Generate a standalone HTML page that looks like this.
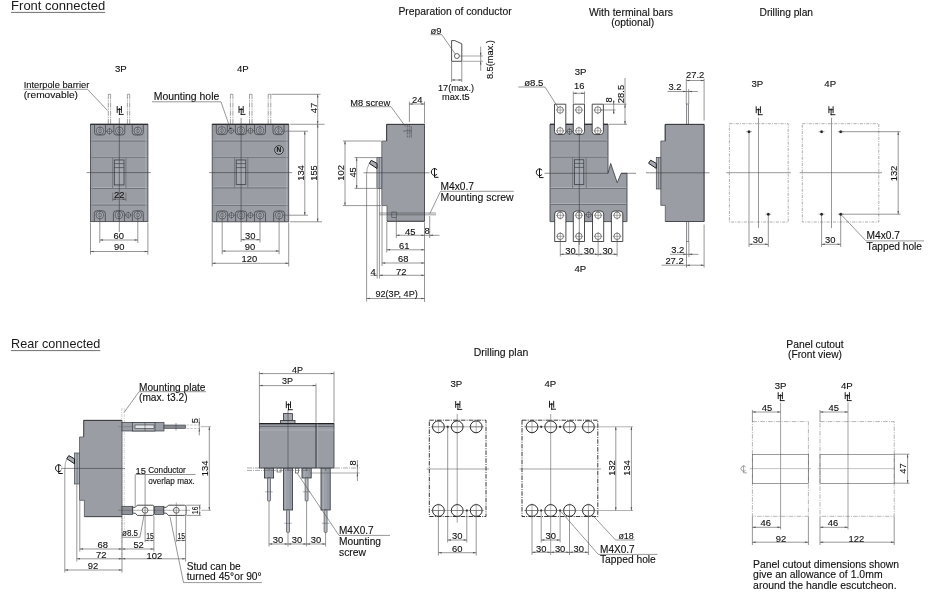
<!DOCTYPE html>
<html lang="en"><head><meta charset="utf-8"><title>Outline dimensions</title>
<style>html,body{margin:0;padding:0;background:#fff}svg{display:block}text{white-space:pre;stroke:#111;stroke-width:.12px}</style>
</head><body>
<svg width="933" height="600" viewBox="0 0 933 600" font-family="'Liberation Sans', sans-serif">
<rect width="933" height="600" fill="#fff"/>
<text x="11.1" y="10" font-size="13" textLength="94.1" lengthAdjust="spacingAndGlyphs" fill="#1a1a1a" style="stroke:none">Front connected</text>
<line x1="11.1" y1="12.4" x2="105.2" y2="12.4" stroke="#4a4a4a" stroke-width="0.8"/>
<text x="11.1" y="347.75" font-size="13" textLength="89.2" lengthAdjust="spacingAndGlyphs" fill="#1a1a1a" style="stroke:none">Rear connected</text>
<line x1="11.1" y1="350.6" x2="100.3" y2="350.6" stroke="#4a4a4a" stroke-width="0.8"/>
<line x1="108.3" y1="94.3" x2="108.3" y2="124.3" stroke="#555" stroke-width="0.55" stroke-dasharray="5 1 1.2 1"/>
<line x1="110.6" y1="94.3" x2="110.6" y2="124.3" stroke="#555" stroke-width="0.55" stroke-dasharray="5 1 1.2 1"/>
<line x1="108.3" y1="94.3" x2="110.6" y2="94.3" stroke="#555" stroke-width="0.55"/>
<line x1="127.4" y1="94.3" x2="127.4" y2="124.3" stroke="#555" stroke-width="0.55" stroke-dasharray="5 1 1.2 1"/>
<line x1="129.7" y1="94.3" x2="129.7" y2="124.3" stroke="#555" stroke-width="0.55" stroke-dasharray="5 1 1.2 1"/>
<line x1="127.4" y1="94.3" x2="129.7" y2="94.3" stroke="#555" stroke-width="0.55"/>
<rect x="90.5" y="124.3" width="57.4" height="97.3" fill="#9a9da3" stroke="#4a4c52" stroke-width="0.9"/>
<line x1="90.5" y1="124.3" x2="147.9" y2="124.3" stroke="#1c1c1e" stroke-width="1.1"/>
<line x1="91" y1="140.1" x2="147.4" y2="140.1" stroke="#b4b8bf" stroke-width="0.7"/>
<line x1="91" y1="141" x2="147.4" y2="141" stroke="#6a6e75" stroke-width="0.9"/>
<line x1="91" y1="156.4" x2="147.4" y2="156.4" stroke="#b4b8bf" stroke-width="0.7"/>
<line x1="91" y1="157.3" x2="147.4" y2="157.3" stroke="#6a6e75" stroke-width="0.9"/>
<line x1="91" y1="187.6" x2="147.4" y2="187.6" stroke="#b4b8bf" stroke-width="0.7"/>
<line x1="91" y1="188.5" x2="147.4" y2="188.5" stroke="#6a6e75" stroke-width="0.9"/>
<line x1="91" y1="204.1" x2="147.4" y2="204.1" stroke="#b4b8bf" stroke-width="0.7"/>
<line x1="91" y1="205" x2="147.4" y2="205" stroke="#6a6e75" stroke-width="0.9"/>
<line x1="145.9" y1="125.3" x2="145.9" y2="220.6" stroke="#b4b8bf" stroke-width="0.6"/>
<line x1="92.5" y1="125.3" x2="92.5" y2="220.6" stroke="#8f939a" stroke-width="0.6"/>
<path d="M94.5,124.3 V132.4 Q94.5,135 97.1,135 H102.9 Q105.5,135 105.5,132.4 V124.3" fill="none" stroke="#3a3c40" stroke-width="0.7"/>
<circle cx="100" cy="130.8" r="3.75" fill="#adb1b9" stroke="#3a3c40" stroke-width="0.65"/>
<circle cx="100" cy="130.8" r="1.9" fill="#a4a8b0" stroke="#4a4d52" stroke-width="0.55"/>
<line x1="100" y1="126.2" x2="100" y2="135.4" stroke="#4a4d52" stroke-width="0.5"/>
<path d="M113.8,124.3 V132.4 Q113.8,135 116.4,135 H122.2 Q124.8,135 124.8,132.4 V124.3" fill="none" stroke="#3a3c40" stroke-width="0.7"/>
<circle cx="119.3" cy="130.8" r="3.75" fill="#adb1b9" stroke="#3a3c40" stroke-width="0.65"/>
<circle cx="119.3" cy="130.8" r="1.9" fill="#a4a8b0" stroke="#4a4d52" stroke-width="0.55"/>
<line x1="119.3" y1="126.2" x2="119.3" y2="135.4" stroke="#4a4d52" stroke-width="0.5"/>
<path d="M132.3,124.3 V132.4 Q132.3,135 134.9,135 H140.7 Q143.3,135 143.3,132.4 V124.3" fill="none" stroke="#3a3c40" stroke-width="0.7"/>
<circle cx="137.8" cy="130.8" r="3.75" fill="#adb1b9" stroke="#3a3c40" stroke-width="0.65"/>
<circle cx="137.8" cy="130.8" r="1.9" fill="#a4a8b0" stroke="#4a4d52" stroke-width="0.55"/>
<line x1="137.8" y1="126.2" x2="137.8" y2="135.4" stroke="#4a4d52" stroke-width="0.5"/>
<circle cx="109.5" cy="131.3" r="2.45" fill="#b0b4bc" stroke="#3a3c40" stroke-width="0.6"/>
<line x1="106.1" y1="131.3" x2="112.9" y2="131.3" stroke="#3a3c40" stroke-width="0.5"/>
<line x1="109.5" y1="127.9" x2="109.5" y2="134.7" stroke="#3a3c40" stroke-width="0.5"/>
<path d="M94.3,221.6 V213.4 Q94.3,210.8 96.9,210.8 H102.7 Q105.3,210.8 105.3,213.4 V221.6" fill="none" stroke="#3a3c40" stroke-width="0.7"/>
<circle cx="99.8" cy="215" r="3.75" fill="#adb1b9" stroke="#3a3c40" stroke-width="0.65"/>
<circle cx="99.8" cy="215" r="1.9" fill="#a4a8b0" stroke="#4a4d52" stroke-width="0.55"/>
<line x1="99.8" y1="210.4" x2="99.8" y2="219.6" stroke="#4a4d52" stroke-width="0.5"/>
<path d="M113.4,221.6 V213.4 Q113.4,210.8 116,210.8 H121.8 Q124.4,210.8 124.4,213.4 V221.6" fill="none" stroke="#3a3c40" stroke-width="0.7"/>
<circle cx="118.9" cy="215" r="3.75" fill="#adb1b9" stroke="#3a3c40" stroke-width="0.65"/>
<circle cx="118.9" cy="215" r="1.9" fill="#a4a8b0" stroke="#4a4d52" stroke-width="0.55"/>
<line x1="118.9" y1="210.4" x2="118.9" y2="219.6" stroke="#4a4d52" stroke-width="0.5"/>
<path d="M132.3,221.6 V213.4 Q132.3,210.8 134.9,210.8 H140.7 Q143.3,210.8 143.3,213.4 V221.6" fill="none" stroke="#3a3c40" stroke-width="0.7"/>
<circle cx="137.8" cy="215" r="3.75" fill="#adb1b9" stroke="#3a3c40" stroke-width="0.65"/>
<circle cx="137.8" cy="215" r="1.9" fill="#a4a8b0" stroke="#4a4d52" stroke-width="0.55"/>
<line x1="137.8" y1="210.4" x2="137.8" y2="219.6" stroke="#4a4d52" stroke-width="0.5"/>
<circle cx="128.2" cy="215" r="2.45" fill="#b0b4bc" stroke="#3a3c40" stroke-width="0.6"/>
<line x1="124.8" y1="215" x2="131.6" y2="215" stroke="#3a3c40" stroke-width="0.5"/>
<line x1="128.2" y1="211.6" x2="128.2" y2="218.4" stroke="#3a3c40" stroke-width="0.5"/>
<line x1="112.7" y1="157.3" x2="112.7" y2="188.5" stroke="#6a6e75" stroke-width="0.8"/>
<line x1="125.9" y1="157.3" x2="125.9" y2="188.5" stroke="#6a6e75" stroke-width="0.8"/>
<rect x="114.3" y="160" width="9.7" height="24.9" fill="#a4a8b0" stroke="#33353a" stroke-width="0.7"/>
<line x1="114.3" y1="163.6" x2="124" y2="163.6" stroke="#33353a" stroke-width="0.6"/>
<line x1="114.3" y1="167.6" x2="124" y2="167.6" stroke="#33353a" stroke-width="0.6"/>
<line x1="119.3" y1="118" x2="119.3" y2="232" stroke="#333" stroke-width="0.55"/>
<line x1="86.5" y1="172.6" x2="151" y2="172.6" stroke="#333" stroke-width="0.55"/>
<line x1="117.2" y1="106.5" x2="117.2" y2="112.4" stroke="#111" stroke-width="0.95" stroke-linecap="square"/>
<line x1="121.4" y1="106.5" x2="121.4" y2="112.4" stroke="#111" stroke-width="0.95" stroke-linecap="square"/>
<line x1="117.2" y1="109.4" x2="121.4" y2="109.4" stroke="#111" stroke-width="0.95"/>
<line x1="119.4" y1="108.6" x2="119.4" y2="114.4" stroke="#111" stroke-width="0.95" stroke-linecap="square"/>
<line x1="119.4" y1="114.4" x2="123.2" y2="114.4" stroke="#111" stroke-width="0.95" stroke-linecap="square"/>
<text x="119.3" y="198.37" font-size="9.4" text-anchor="middle" fill="#111">22</text>
<line x1="112.7" y1="192.5" x2="112.7" y2="201" stroke="#505050" stroke-width="0.5"/>
<line x1="125.9" y1="192.5" x2="125.9" y2="201" stroke="#505050" stroke-width="0.5"/>
<line x1="112.7" y1="199.2" x2="125.9" y2="199.2" stroke="#505050" stroke-width="0.6"/>
<polygon points="112.7,199.2 115.9,198.45 115.9,199.95" fill="#505050"/>
<polygon points="125.9,199.2 122.7,198.45 122.7,199.95" fill="#505050"/>
<line x1="99.8" y1="219" x2="99.8" y2="243" stroke="#505050" stroke-width="0.6"/>
<line x1="137.8" y1="219" x2="137.8" y2="243" stroke="#505050" stroke-width="0.6"/>
<line x1="99.8" y1="240" x2="137.8" y2="240" stroke="#505050" stroke-width="0.6"/>
<polygon points="99.8,240 103,239.25 103,240.75" fill="#505050"/>
<polygon points="137.8,240 134.6,239.25 134.6,240.75" fill="#505050"/>
<text x="118.8" y="238.67" font-size="9.4" text-anchor="middle" fill="#111">60</text>
<line x1="90.5" y1="222.6" x2="90.5" y2="254.6" stroke="#505050" stroke-width="0.6"/>
<line x1="147.9" y1="222.6" x2="147.9" y2="254.6" stroke="#505050" stroke-width="0.6"/>
<line x1="90.5" y1="251.5" x2="147.9" y2="251.5" stroke="#505050" stroke-width="0.6"/>
<polygon points="90.5,251.5 93.7,250.75 93.7,252.25" fill="#505050"/>
<polygon points="147.9,251.5 144.7,250.75 144.7,252.25" fill="#505050"/>
<text x="119.2" y="250.37" font-size="9.4" text-anchor="middle" fill="#111">90</text>
<text x="120.8" y="72.24" font-size="9.6" text-anchor="middle" fill="#111">3P</text>
<text x="23.7" y="87.64" font-size="9.9" textLength="65.6" lengthAdjust="spacingAndGlyphs" fill="#111">Interpole barrier</text>
<text x="23.7" y="97.84" font-size="9.9" textLength="54.3" lengthAdjust="spacingAndGlyphs" fill="#111">(removable)</text>
<line x1="23.7" y1="89.3" x2="87.5" y2="89.3" stroke="#505050" stroke-width="0.6"/>
<line x1="87.5" y1="89.3" x2="107.5" y2="110.5" stroke="#505050" stroke-width="0.6"/>
<line x1="230.4" y1="94.3" x2="230.4" y2="124.3" stroke="#555" stroke-width="0.55" stroke-dasharray="5 1 1.2 1"/>
<line x1="232.9" y1="94.3" x2="232.9" y2="124.3" stroke="#555" stroke-width="0.55" stroke-dasharray="5 1 1.2 1"/>
<line x1="230.4" y1="94.3" x2="232.9" y2="94.3" stroke="#555" stroke-width="0.55"/>
<line x1="249.5" y1="94.3" x2="249.5" y2="124.3" stroke="#555" stroke-width="0.55" stroke-dasharray="5 1 1.2 1"/>
<line x1="252" y1="94.3" x2="252" y2="124.3" stroke="#555" stroke-width="0.55" stroke-dasharray="5 1 1.2 1"/>
<line x1="249.5" y1="94.3" x2="252" y2="94.3" stroke="#555" stroke-width="0.55"/>
<line x1="268.2" y1="94.3" x2="268.2" y2="124.3" stroke="#555" stroke-width="0.55" stroke-dasharray="5 1 1.2 1"/>
<line x1="270.8" y1="94.3" x2="270.8" y2="124.3" stroke="#555" stroke-width="0.55" stroke-dasharray="5 1 1.2 1"/>
<line x1="268.2" y1="94.3" x2="270.8" y2="94.3" stroke="#555" stroke-width="0.55"/>
<rect x="212.2" y="124.3" width="76.5" height="97.5" fill="#9a9da3" stroke="#4a4c52" stroke-width="0.9"/>
<line x1="212.2" y1="124.3" x2="288.7" y2="124.3" stroke="#1c1c1e" stroke-width="1.1"/>
<line x1="212.7" y1="140.1" x2="288.2" y2="140.1" stroke="#b4b8bf" stroke-width="0.7"/>
<line x1="212.7" y1="141" x2="288.2" y2="141" stroke="#6a6e75" stroke-width="0.9"/>
<line x1="212.7" y1="156.4" x2="288.2" y2="156.4" stroke="#b4b8bf" stroke-width="0.7"/>
<line x1="212.7" y1="157.3" x2="288.2" y2="157.3" stroke="#6a6e75" stroke-width="0.9"/>
<line x1="212.7" y1="187" x2="288.2" y2="187" stroke="#b4b8bf" stroke-width="0.7"/>
<line x1="212.7" y1="187.9" x2="288.2" y2="187.9" stroke="#6a6e75" stroke-width="0.9"/>
<line x1="212.7" y1="204.5" x2="288.2" y2="204.5" stroke="#b4b8bf" stroke-width="0.7"/>
<line x1="212.7" y1="205.4" x2="288.2" y2="205.4" stroke="#6a6e75" stroke-width="0.9"/>
<line x1="286.7" y1="125.3" x2="286.7" y2="220.8" stroke="#b4b8bf" stroke-width="0.6"/>
<line x1="214.2" y1="125.3" x2="214.2" y2="220.8" stroke="#8f939a" stroke-width="0.6"/>
<path d="M216.3,124.3 V132 Q216.3,134.6 218.9,134.6 H224.7 Q227.3,134.6 227.3,132 V124.3" fill="none" stroke="#3a3c40" stroke-width="0.7"/>
<circle cx="221.8" cy="130.4" r="3.75" fill="#adb1b9" stroke="#3a3c40" stroke-width="0.65"/>
<circle cx="221.8" cy="130.4" r="1.9" fill="#a4a8b0" stroke="#4a4d52" stroke-width="0.55"/>
<line x1="221.8" y1="125.8" x2="221.8" y2="135" stroke="#4a4d52" stroke-width="0.5"/>
<path d="M235.4,124.3 V132 Q235.4,134.6 238,134.6 H243.8 Q246.4,134.6 246.4,132 V124.3" fill="none" stroke="#3a3c40" stroke-width="0.7"/>
<circle cx="240.9" cy="130.4" r="3.75" fill="#adb1b9" stroke="#3a3c40" stroke-width="0.65"/>
<circle cx="240.9" cy="130.4" r="1.9" fill="#a4a8b0" stroke="#4a4d52" stroke-width="0.55"/>
<line x1="240.9" y1="125.8" x2="240.9" y2="135" stroke="#4a4d52" stroke-width="0.5"/>
<path d="M254.5,124.3 V132 Q254.5,134.6 257.1,134.6 H262.9 Q265.5,134.6 265.5,132 V124.3" fill="none" stroke="#3a3c40" stroke-width="0.7"/>
<circle cx="260" cy="130.4" r="3.75" fill="#adb1b9" stroke="#3a3c40" stroke-width="0.65"/>
<circle cx="260" cy="130.4" r="1.9" fill="#a4a8b0" stroke="#4a4d52" stroke-width="0.55"/>
<line x1="260" y1="125.8" x2="260" y2="135" stroke="#4a4d52" stroke-width="0.5"/>
<path d="M273,124.3 V132 Q273,134.6 275.6,134.6 H281.4 Q284,134.6 284,132 V124.3" fill="none" stroke="#3a3c40" stroke-width="0.7"/>
<circle cx="278.5" cy="130.4" r="3.75" fill="#adb1b9" stroke="#3a3c40" stroke-width="0.65"/>
<circle cx="278.5" cy="130.4" r="1.9" fill="#a4a8b0" stroke="#4a4d52" stroke-width="0.55"/>
<line x1="278.5" y1="125.8" x2="278.5" y2="135" stroke="#4a4d52" stroke-width="0.5"/>
<circle cx="231.2" cy="130.8" r="2.45" fill="#b0b4bc" stroke="#3a3c40" stroke-width="0.6"/>
<line x1="227.8" y1="130.8" x2="234.6" y2="130.8" stroke="#3a3c40" stroke-width="0.5"/>
<line x1="231.2" y1="127.4" x2="231.2" y2="134.2" stroke="#3a3c40" stroke-width="0.5"/>
<circle cx="250.5" cy="130.8" r="2.45" fill="#b0b4bc" stroke="#3a3c40" stroke-width="0.6"/>
<line x1="247.1" y1="130.8" x2="253.9" y2="130.8" stroke="#3a3c40" stroke-width="0.5"/>
<line x1="250.5" y1="127.4" x2="250.5" y2="134.2" stroke="#3a3c40" stroke-width="0.5"/>
<path d="M216.7,221.8 V213.6 Q216.7,211 219.3,211 H225.1 Q227.7,211 227.7,213.6 V221.8" fill="none" stroke="#3a3c40" stroke-width="0.7"/>
<circle cx="222.2" cy="215.2" r="3.75" fill="#adb1b9" stroke="#3a3c40" stroke-width="0.65"/>
<circle cx="222.2" cy="215.2" r="1.9" fill="#a4a8b0" stroke="#4a4d52" stroke-width="0.55"/>
<line x1="222.2" y1="210.6" x2="222.2" y2="219.8" stroke="#4a4d52" stroke-width="0.5"/>
<path d="M235.6,221.8 V213.6 Q235.6,211 238.2,211 H244 Q246.6,211 246.6,213.6 V221.8" fill="none" stroke="#3a3c40" stroke-width="0.7"/>
<circle cx="241.1" cy="215.2" r="3.75" fill="#adb1b9" stroke="#3a3c40" stroke-width="0.65"/>
<circle cx="241.1" cy="215.2" r="1.9" fill="#a4a8b0" stroke="#4a4d52" stroke-width="0.55"/>
<line x1="241.1" y1="210.6" x2="241.1" y2="219.8" stroke="#4a4d52" stroke-width="0.5"/>
<path d="M254.5,221.8 V213.6 Q254.5,211 257.1,211 H262.9 Q265.5,211 265.5,213.6 V221.8" fill="none" stroke="#3a3c40" stroke-width="0.7"/>
<circle cx="260" cy="215.2" r="3.75" fill="#adb1b9" stroke="#3a3c40" stroke-width="0.65"/>
<circle cx="260" cy="215.2" r="1.9" fill="#a4a8b0" stroke="#4a4d52" stroke-width="0.55"/>
<line x1="260" y1="210.6" x2="260" y2="219.8" stroke="#4a4d52" stroke-width="0.5"/>
<path d="M273.6,221.8 V213.6 Q273.6,211 276.2,211 H282 Q284.6,211 284.6,213.6 V221.8" fill="none" stroke="#3a3c40" stroke-width="0.7"/>
<circle cx="279.1" cy="215.2" r="3.75" fill="#adb1b9" stroke="#3a3c40" stroke-width="0.65"/>
<circle cx="279.1" cy="215.2" r="1.9" fill="#a4a8b0" stroke="#4a4d52" stroke-width="0.55"/>
<line x1="279.1" y1="210.6" x2="279.1" y2="219.8" stroke="#4a4d52" stroke-width="0.5"/>
<circle cx="231.5" cy="215.2" r="2.45" fill="#b0b4bc" stroke="#3a3c40" stroke-width="0.6"/>
<line x1="228.1" y1="215.2" x2="234.9" y2="215.2" stroke="#3a3c40" stroke-width="0.5"/>
<line x1="231.5" y1="211.8" x2="231.5" y2="218.6" stroke="#3a3c40" stroke-width="0.5"/>
<circle cx="250.4" cy="215.2" r="2.45" fill="#b0b4bc" stroke="#3a3c40" stroke-width="0.6"/>
<line x1="247" y1="215.2" x2="253.8" y2="215.2" stroke="#3a3c40" stroke-width="0.5"/>
<line x1="250.4" y1="211.8" x2="250.4" y2="218.6" stroke="#3a3c40" stroke-width="0.5"/>
<line x1="234.6" y1="157.3" x2="234.6" y2="187.9" stroke="#6a6e75" stroke-width="0.8"/>
<line x1="247.8" y1="157.3" x2="247.8" y2="187.9" stroke="#6a6e75" stroke-width="0.8"/>
<rect x="236.2" y="160" width="9.6" height="24.6" fill="#a4a8b0" stroke="#33353a" stroke-width="0.7"/>
<line x1="236.2" y1="163.6" x2="245.8" y2="163.6" stroke="#33353a" stroke-width="0.6"/>
<line x1="236.2" y1="167.6" x2="245.8" y2="167.6" stroke="#33353a" stroke-width="0.6"/>
<circle cx="279" cy="150" r="4.4" fill="#a8acb4" stroke="#222" stroke-width="0.8"/>
<text x="279" y="152.46" font-size="6.6" text-anchor="middle" fill="#111" font-weight="bold">N</text>
<line x1="241.1" y1="118" x2="241.1" y2="242" stroke="#333" stroke-width="0.55"/>
<line x1="209" y1="172.6" x2="292" y2="172.6" stroke="#333" stroke-width="0.55"/>
<line x1="239" y1="106.5" x2="239" y2="112.4" stroke="#111" stroke-width="0.95" stroke-linecap="square"/>
<line x1="243.2" y1="106.5" x2="243.2" y2="112.4" stroke="#111" stroke-width="0.95" stroke-linecap="square"/>
<line x1="239" y1="109.4" x2="243.2" y2="109.4" stroke="#111" stroke-width="0.95"/>
<line x1="241.2" y1="108.6" x2="241.2" y2="114.4" stroke="#111" stroke-width="0.95" stroke-linecap="square"/>
<line x1="241.2" y1="114.4" x2="245" y2="114.4" stroke="#111" stroke-width="0.95" stroke-linecap="square"/>
<text x="242.8" y="72.24" font-size="9.6" text-anchor="middle" fill="#111">4P</text>
<text x="153.7" y="99.94" font-size="10.44" textLength="65.6" lengthAdjust="spacingAndGlyphs" fill="#111">Mounting hole</text>
<line x1="152" y1="101.8" x2="221" y2="101.8" stroke="#505050" stroke-width="0.6"/>
<line x1="221" y1="101.8" x2="230.2" y2="128.5" stroke="#505050" stroke-width="0.6"/>
<circle cx="230.2" cy="128.5" r="0.5" fill="#111" stroke="#111" stroke-width="0.3"/>
<line x1="271.5" y1="94.3" x2="320.5" y2="94.3" stroke="#505050" stroke-width="0.6"/>
<line x1="290.2" y1="124.3" x2="324.5" y2="124.3" stroke="#505050" stroke-width="0.6"/>
<line x1="317.7" y1="94.3" x2="317.7" y2="124.3" stroke="#505050" stroke-width="0.6"/>
<polygon points="317.7,94.3 316.95,97.5 318.45,97.5" fill="#505050"/>
<polygon points="317.7,124.3 316.95,121.1 318.45,121.1" fill="#505050"/>
<text transform="translate(313.4 108) rotate(-90)" x="0" y="3.37" font-size="9.4" text-anchor="middle" fill="#111">47</text>
<line x1="282" y1="131.2" x2="308" y2="131.2" stroke="#505050" stroke-width="0.6"/>
<line x1="283" y1="215.2" x2="308" y2="215.2" stroke="#505050" stroke-width="0.6"/>
<line x1="304.8" y1="131.2" x2="304.8" y2="215.2" stroke="#505050" stroke-width="0.6"/>
<polygon points="304.8,131.2 304.05,134.4 305.55,134.4" fill="#505050"/>
<polygon points="304.8,215.2 304.05,212 305.55,212" fill="#505050"/>
<text transform="translate(300.2 173) rotate(-90)" x="0" y="3.37" font-size="9.4" text-anchor="middle" fill="#111">134</text>
<line x1="290.2" y1="221.8" x2="322" y2="221.8" stroke="#505050" stroke-width="0.6"/>
<line x1="317.7" y1="124.3" x2="317.7" y2="221.8" stroke="#505050" stroke-width="0.6"/>
<polygon points="317.7,124.3 316.95,127.5 318.45,127.5" fill="#505050"/>
<polygon points="317.7,221.8 316.95,218.6 318.45,218.6" fill="#505050"/>
<text transform="translate(313.3 173) rotate(-90)" x="0" y="3.37" font-size="9.4" text-anchor="middle" fill="#111">155</text>
<line x1="260" y1="219" x2="260" y2="242.5" stroke="#505050" stroke-width="0.6"/>
<line x1="241.1" y1="239.7" x2="260" y2="239.7" stroke="#505050" stroke-width="0.6"/>
<polygon points="241.1,239.7 244.3,238.95 244.3,240.45" fill="#505050"/>
<polygon points="260,239.7 256.8,238.95 256.8,240.45" fill="#505050"/>
<text x="250.3" y="238.67" font-size="9.4" text-anchor="middle" fill="#111">30</text>
<line x1="222.2" y1="219" x2="222.2" y2="254.3" stroke="#505050" stroke-width="0.6"/>
<line x1="279.1" y1="219" x2="279.1" y2="254.3" stroke="#505050" stroke-width="0.6"/>
<line x1="222.2" y1="251.1" x2="279.1" y2="251.1" stroke="#505050" stroke-width="0.6"/>
<polygon points="222.2,251.1 225.4,250.35 225.4,251.85" fill="#505050"/>
<polygon points="279.1,251.1 275.9,250.35 275.9,251.85" fill="#505050"/>
<text x="250" y="250.37" font-size="9.4" text-anchor="middle" fill="#111">90</text>
<line x1="212.2" y1="222.8" x2="212.2" y2="266.5" stroke="#505050" stroke-width="0.6"/>
<line x1="288.7" y1="222.8" x2="288.7" y2="266.5" stroke="#505050" stroke-width="0.6"/>
<line x1="212.2" y1="263.3" x2="288.7" y2="263.3" stroke="#505050" stroke-width="0.6"/>
<polygon points="212.2,263.3 215.4,262.55 215.4,264.05" fill="#505050"/>
<polygon points="288.7,263.3 285.5,262.55 285.5,264.05" fill="#505050"/>
<text x="249.3" y="262.37" font-size="9.4" text-anchor="middle" fill="#111">120</text>
<text x="398.4" y="15.4" font-size="10.34" textLength="113.2" lengthAdjust="spacingAndGlyphs" fill="#111">Preparation of conductor</text>
<text x="430.6" y="34.4" font-size="9.5" textLength="11" lengthAdjust="spacingAndGlyphs" fill="#111">ø9</text>
<line x1="430.6" y1="34.7" x2="441.8" y2="34.7" stroke="#505050" stroke-width="0.6"/>
<polygon points="451.6,40.6 454.8,40.6 461.8,43.8 461.8,61.3 451.6,61.3" fill="#fff" stroke="#222" stroke-width="0.8"/>
<circle cx="456.9" cy="56" r="2.5" fill="none" stroke="#222" stroke-width="0.7"/>
<line x1="441.8" y1="34.7" x2="455.4" y2="54.2" stroke="#505050" stroke-width="0.6"/>
<line x1="459.5" y1="56" x2="483" y2="56" stroke="#505050" stroke-width="0.5"/>
<line x1="462.3" y1="61.3" x2="483" y2="61.3" stroke="#505050" stroke-width="0.5"/>
<line x1="480.7" y1="46.5" x2="480.7" y2="70.8" stroke="#505050" stroke-width="0.6"/>
<polygon points="480.7,56 479.95,52.8 481.45,52.8" fill="#505050"/>
<polygon points="480.7,61.3 479.95,64.5 481.45,64.5" fill="#505050"/>
<text transform="translate(489.3 59.6) rotate(-90)" x="0" y="3.4" font-size="9.5" text-anchor="middle" textLength="39" lengthAdjust="spacingAndGlyphs" fill="#111">8.5(max.)</text>
<line x1="451.6" y1="62" x2="451.6" y2="82" stroke="#505050" stroke-width="0.6"/>
<line x1="461.8" y1="62" x2="461.8" y2="82" stroke="#505050" stroke-width="0.6"/>
<line x1="451.6" y1="80" x2="461.8" y2="80" stroke="#505050" stroke-width="0.6"/>
<polygon points="451.6,80 454.8,79.25 454.8,80.75" fill="#505050"/>
<polygon points="461.8,80 458.6,79.25 458.6,80.75" fill="#505050"/>
<text x="456" y="90.8" font-size="9.5" text-anchor="middle" textLength="36" lengthAdjust="spacingAndGlyphs" fill="#111">17(max.)</text>
<text x="455.8" y="100.4" font-size="9.5" text-anchor="middle" textLength="27.6" lengthAdjust="spacingAndGlyphs" fill="#111">max.t5</text>
<polygon points="386.6,124.4 424.5,124.4 424.5,221.3 387,221.3 387,205.6 381.8,205.6 381.8,141 386.6,141" fill="#9a9da3" stroke="#55585e" stroke-width="0.8"/>
<line x1="386.6" y1="124.4" x2="424.5" y2="124.4" stroke="#2a2a2c" stroke-width="0.85"/>
<line x1="386.6" y1="124.4" x2="386.6" y2="141" stroke="#2e2f33" stroke-width="0.8"/>
<line x1="424.5" y1="124.4" x2="424.5" y2="221.3" stroke="#44464c" stroke-width="0.75"/>
<line x1="387" y1="221.3" x2="424.5" y2="221.3" stroke="#3a3c40" stroke-width="0.75"/>
<rect x="376.9" y="157.5" width="4.9" height="31" fill="#aaaeb6" stroke="#44474c" stroke-width="0.7"/>
<line x1="379.3" y1="157.5" x2="379.3" y2="188.5" stroke="#55585e" stroke-width="0.6"/>
<polygon points="377,163.5 377,168.5 369.3,163.4 371.3,160.3" fill="#a8acb4" stroke="#1c1c1e" stroke-width="1.0"/>
<path d="M369.3,163.4 Q366.6,167.5 366.5,175" fill="none" stroke="#505050" stroke-width="0.5"/>
<line x1="363.5" y1="172.8" x2="429.5" y2="172.8" stroke="#333" stroke-width="0.55"/>
<g transform="translate(434.5 172) rotate(0) scale(1)">
<path d="M2.6,-2 A3.2,3.4 0 1 0 2.6,2" fill="none" stroke="#111" stroke-width="1.0"/>
<line x1="0" y1="-3.8" x2="0" y2="5.3" stroke="#111" stroke-width="1.0"/>
<line x1="0" y1="5.3" x2="4" y2="5.3" stroke="#111" stroke-width="1.0"/>
</g>
<line x1="403" y1="131" x2="412" y2="131" stroke="#44474c" stroke-width="0.6"/>
<line x1="407.3" y1="125" x2="407.3" y2="137.5" stroke="#44474c" stroke-width="0.6" stroke-dasharray="2.5 1"/>
<line x1="409.3" y1="125" x2="409.3" y2="137.5" stroke="#44474c" stroke-width="0.6" stroke-dasharray="2.5 1"/>
<line x1="411.2" y1="126" x2="411.2" y2="137.5" stroke="#44474c" stroke-width="0.6"/>
<text x="350.3" y="106.14" font-size="9.9" textLength="39.8" lengthAdjust="spacingAndGlyphs" fill="#111">M8 screw</text>
<line x1="350.6" y1="106.7" x2="391" y2="106.7" stroke="#505050" stroke-width="0.6"/>
<line x1="391" y1="106.7" x2="405.4" y2="126.5" stroke="#505050" stroke-width="0.6"/>
<line x1="409.4" y1="101.5" x2="409.4" y2="122" stroke="#505050" stroke-width="0.6"/>
<line x1="424.5" y1="101.5" x2="424.5" y2="123.4" stroke="#505050" stroke-width="0.6"/>
<line x1="409.4" y1="104" x2="424.5" y2="104" stroke="#505050" stroke-width="0.6"/>
<polygon points="409.4,104 412.6,103.25 412.6,104.75" fill="#505050"/>
<polygon points="424.5,104 421.3,103.25 421.3,104.75" fill="#505050"/>
<text x="417.2" y="103.17" font-size="9.4" text-anchor="middle" fill="#111">24</text>
<line x1="343" y1="141" x2="381" y2="141" stroke="#505050" stroke-width="0.6"/>
<line x1="343" y1="205.6" x2="381" y2="205.6" stroke="#505050" stroke-width="0.6"/>
<line x1="345" y1="141" x2="345" y2="205.6" stroke="#505050" stroke-width="0.6"/>
<polygon points="345,141 344.25,144.2 345.75,144.2" fill="#505050"/>
<polygon points="345,205.6 344.25,202.4 345.75,202.4" fill="#505050"/>
<text transform="translate(340.6 172.8) rotate(-90)" x="0" y="3.37" font-size="9.4" text-anchor="middle" fill="#111">102</text>
<line x1="354.5" y1="157.6" x2="376.5" y2="157.6" stroke="#505050" stroke-width="0.6"/>
<line x1="354.5" y1="188.4" x2="376.5" y2="188.4" stroke="#505050" stroke-width="0.6"/>
<line x1="356.7" y1="157.6" x2="356.7" y2="188.4" stroke="#505050" stroke-width="0.6"/>
<polygon points="356.7,157.6 355.95,160.8 357.45,160.8" fill="#505050"/>
<polygon points="356.7,188.4 355.95,185.2 357.45,185.2" fill="#505050"/>
<text transform="translate(352.5 172.4) rotate(-90)" x="0" y="3.37" font-size="9.4" text-anchor="middle" fill="#111">45</text>
<line x1="379.4" y1="213" x2="436" y2="213" stroke="#44474c" stroke-width="0.55"/>
<line x1="379.4" y1="214.8" x2="436" y2="214.8" stroke="#44474c" stroke-width="0.55"/>
<rect x="391.8" y="212" width="4.5" height="5.3" fill="none" stroke="#44474c" stroke-width="0.6"/>
<text x="440.5" y="189.96" font-size="10.22" textLength="33.5" lengthAdjust="spacingAndGlyphs" fill="#111">M4x0.7</text>
<line x1="440.5" y1="191.3" x2="513.8" y2="191.3" stroke="#505050" stroke-width="0.6"/>
<line x1="440.5" y1="191.3" x2="429.8" y2="213.6" stroke="#505050" stroke-width="0.6"/>
<text x="440.5" y="200.53" font-size="10.42" textLength="73" lengthAdjust="spacingAndGlyphs" fill="#111">Mounting screw</text>
<line x1="396.3" y1="217.5" x2="396.3" y2="238" stroke="#505050" stroke-width="0.6"/>
<line x1="429.7" y1="216" x2="429.7" y2="238" stroke="#505050" stroke-width="0.6"/>
<line x1="424.5" y1="222.3" x2="424.5" y2="302" stroke="#505050" stroke-width="0.6"/>
<line x1="396.3" y1="235.3" x2="424.5" y2="235.3" stroke="#505050" stroke-width="0.6"/>
<polygon points="396.3,235.3 399.5,234.55 399.5,236.05" fill="#505050"/>
<polygon points="424.5,235.3 421.3,234.55 421.3,236.05" fill="#505050"/>
<text x="410.2" y="234.67" font-size="9.4" text-anchor="middle" fill="#111">45</text>
<line x1="424.5" y1="235.3" x2="439.5" y2="235.3" stroke="#505050" stroke-width="0.6"/>
<polygon points="429.7,235.3 432.9,234.55 432.9,236.05" fill="#505050"/>
<text x="427.2" y="234.47" font-size="9.4" text-anchor="middle" fill="#111">8</text>
<line x1="386.8" y1="222" x2="386.8" y2="252.5" stroke="#505050" stroke-width="0.6"/>
<line x1="386.8" y1="249.8" x2="424.5" y2="249.8" stroke="#505050" stroke-width="0.6"/>
<polygon points="386.8,249.8 390,249.05 390,250.55" fill="#505050"/>
<polygon points="424.5,249.8 421.3,249.05 421.3,250.55" fill="#505050"/>
<text x="404.3" y="248.97" font-size="9.4" text-anchor="middle" fill="#111">61</text>
<line x1="382" y1="206" x2="382" y2="266" stroke="#505050" stroke-width="0.6"/>
<line x1="382" y1="263" x2="424.5" y2="263" stroke="#505050" stroke-width="0.6"/>
<polygon points="382,263 385.2,262.25 385.2,263.75" fill="#505050"/>
<polygon points="424.5,263 421.3,262.25 421.3,263.75" fill="#505050"/>
<text x="403.3" y="262.37" font-size="9.4" text-anchor="middle" fill="#111">68</text>
<line x1="379.4" y1="189" x2="379.4" y2="278.5" stroke="#505050" stroke-width="0.6"/>
<line x1="377.2" y1="189" x2="377.2" y2="278.5" stroke="#505050" stroke-width="0.6"/>
<line x1="379.4" y1="275.3" x2="424.5" y2="275.3" stroke="#505050" stroke-width="0.6"/>
<polygon points="379.4,275.3 382.6,274.55 382.6,276.05" fill="#505050"/>
<polygon points="424.5,275.3 421.3,274.55 421.3,276.05" fill="#505050"/>
<text x="401.2" y="274.67" font-size="9.4" text-anchor="middle" fill="#111">72</text>
<line x1="370.5" y1="275.3" x2="377.2" y2="275.3" stroke="#505050" stroke-width="0.6"/>
<polygon points="377.2,275.3 374,274.55 374,276.05" fill="#505050"/>
<text x="373" y="274.67" font-size="9.4" text-anchor="middle" fill="#111">4</text>
<line x1="366.6" y1="175" x2="366.6" y2="301.5" stroke="#505050" stroke-width="0.6"/>
<line x1="366.6" y1="298.5" x2="424.5" y2="298.5" stroke="#505050" stroke-width="0.6"/>
<polygon points="366.6,298.5 369.8,297.75 369.8,299.25" fill="#505050"/>
<polygon points="424.5,298.5 421.3,297.75 421.3,299.25" fill="#505050"/>
<text x="396.6" y="297.1" font-size="9.5" text-anchor="middle" textLength="42.3" lengthAdjust="spacingAndGlyphs" fill="#111">92(3P, 4P)</text>
<text x="631" y="15.74" font-size="10.45" text-anchor="middle" textLength="84.2" lengthAdjust="spacingAndGlyphs" fill="#111">With terminal bars</text>
<text x="632.7" y="25.99" font-size="10.32" text-anchor="middle" textLength="43" lengthAdjust="spacingAndGlyphs" fill="#111">(optional)</text>
<path d="M550,124.3 H608 V173.3 L610.7,163.5 L617.2,182.7 L621.2,173.3 H627 V221.6 H550 Z" fill="#9a9da3" stroke="#44474c" stroke-width="0.9"/>
<line x1="550" y1="124.3" x2="608" y2="124.3" stroke="#222" stroke-width="1.1"/>
<line x1="550.5" y1="140.1" x2="607.5" y2="140.1" stroke="#b4b8bf" stroke-width="0.7"/>
<line x1="550.5" y1="141" x2="607.5" y2="141" stroke="#6a6e75" stroke-width="0.9"/>
<line x1="550.5" y1="156.3" x2="607.5" y2="156.3" stroke="#b4b8bf" stroke-width="0.7"/>
<line x1="550.5" y1="157.2" x2="607.5" y2="157.2" stroke="#6a6e75" stroke-width="0.9"/>
<line x1="550.5" y1="187.6" x2="626.5" y2="187.6" stroke="#b4b8bf" stroke-width="0.7"/>
<line x1="550.5" y1="188.5" x2="626.5" y2="188.5" stroke="#6a6e75" stroke-width="0.9"/>
<line x1="550.5" y1="203.6" x2="626.5" y2="203.6" stroke="#b4b8bf" stroke-width="0.7"/>
<line x1="550.5" y1="204.5" x2="626.5" y2="204.5" stroke="#6a6e75" stroke-width="0.9"/>
<line x1="572.6" y1="157.2" x2="572.6" y2="188.5" stroke="#6a6e75" stroke-width="0.8"/>
<line x1="586.2" y1="157.2" x2="586.2" y2="188.5" stroke="#6a6e75" stroke-width="0.8"/>
<rect x="574.5" y="159.8" width="9.3" height="24.7" fill="#a4a8b0" stroke="#33353a" stroke-width="0.7"/>
<line x1="574.5" y1="163.4" x2="583.8" y2="163.4" stroke="#33353a" stroke-width="0.6"/>
<line x1="574.5" y1="167.4" x2="583.8" y2="167.4" stroke="#33353a" stroke-width="0.6"/>
<path d="M554.5,104.2 H565.8 V131.5 Q565.8,134.5 562.8,134.5 H557.5 Q554.5,134.5 554.5,131.5 Z" fill="#fff" stroke="#222" stroke-width="0.8"/>
<circle cx="560.15" cy="110" r="3.2" fill="none" stroke="#2a2a2c" stroke-width="0.6"/>
<line x1="555.85" y1="110" x2="564.45" y2="110" stroke="#505050" stroke-width="0.45"/>
<line x1="560.15" y1="105.7" x2="560.15" y2="114.3" stroke="#505050" stroke-width="0.45"/>
<circle cx="560.15" cy="130.8" r="3.2" fill="none" stroke="#2a2a2c" stroke-width="0.6"/>
<line x1="555.85" y1="130.8" x2="564.45" y2="130.8" stroke="#505050" stroke-width="0.45"/>
<line x1="560.15" y1="126.5" x2="560.15" y2="135.1" stroke="#505050" stroke-width="0.45"/>
<path d="M573.3,104.2 H584.5 V131.5 Q584.5,134.5 581.5,134.5 H576.3 Q573.3,134.5 573.3,131.5 Z" fill="#fff" stroke="#222" stroke-width="0.8"/>
<circle cx="578.9" cy="110" r="3.2" fill="none" stroke="#2a2a2c" stroke-width="0.6"/>
<line x1="574.6" y1="110" x2="583.2" y2="110" stroke="#505050" stroke-width="0.45"/>
<line x1="578.9" y1="105.7" x2="578.9" y2="114.3" stroke="#505050" stroke-width="0.45"/>
<circle cx="578.9" cy="130.8" r="3.2" fill="none" stroke="#2a2a2c" stroke-width="0.6"/>
<line x1="574.6" y1="130.8" x2="583.2" y2="130.8" stroke="#505050" stroke-width="0.45"/>
<line x1="578.9" y1="126.5" x2="578.9" y2="135.1" stroke="#505050" stroke-width="0.45"/>
<path d="M592.2,104.2 H603.4 V131.5 Q603.4,134.5 600.4,134.5 H595.2 Q592.2,134.5 592.2,131.5 Z" fill="#fff" stroke="#222" stroke-width="0.8"/>
<circle cx="597.8" cy="110" r="3.2" fill="none" stroke="#2a2a2c" stroke-width="0.6"/>
<line x1="593.5" y1="110" x2="602.1" y2="110" stroke="#505050" stroke-width="0.45"/>
<line x1="597.8" y1="105.7" x2="597.8" y2="114.3" stroke="#505050" stroke-width="0.45"/>
<circle cx="597.8" cy="130.8" r="3.2" fill="none" stroke="#2a2a2c" stroke-width="0.6"/>
<line x1="593.5" y1="130.8" x2="602.1" y2="130.8" stroke="#505050" stroke-width="0.45"/>
<line x1="597.8" y1="126.5" x2="597.8" y2="135.1" stroke="#505050" stroke-width="0.45"/>
<circle cx="569.5" cy="131.6" r="2.45" fill="#b0b4bc" stroke="#3a3c40" stroke-width="0.6"/>
<line x1="566.1" y1="131.6" x2="572.9" y2="131.6" stroke="#3a3c40" stroke-width="0.5"/>
<line x1="569.5" y1="128.2" x2="569.5" y2="135" stroke="#3a3c40" stroke-width="0.5"/>
<path d="M554.7,241.5 H565.9 V214.1 Q565.9,211.1 562.9,211.1 H557.7 Q554.7,211.1 554.7,214.1 Z" fill="#fff" stroke="#222" stroke-width="0.8"/>
<circle cx="560.3" cy="215.3" r="3.2" fill="none" stroke="#2a2a2c" stroke-width="0.6"/>
<line x1="556" y1="215.3" x2="564.6" y2="215.3" stroke="#505050" stroke-width="0.45"/>
<line x1="560.3" y1="211" x2="560.3" y2="219.6" stroke="#505050" stroke-width="0.45"/>
<circle cx="560.3" cy="236.3" r="3.2" fill="none" stroke="#2a2a2c" stroke-width="0.6"/>
<line x1="556" y1="236.3" x2="564.6" y2="236.3" stroke="#505050" stroke-width="0.45"/>
<line x1="560.3" y1="232" x2="560.3" y2="240.6" stroke="#505050" stroke-width="0.45"/>
<path d="M573.3,241.5 H584.5 V214.1 Q584.5,211.1 581.5,211.1 H576.3 Q573.3,211.1 573.3,214.1 Z" fill="#fff" stroke="#222" stroke-width="0.8"/>
<circle cx="578.9" cy="215.3" r="3.2" fill="none" stroke="#2a2a2c" stroke-width="0.6"/>
<line x1="574.6" y1="215.3" x2="583.2" y2="215.3" stroke="#505050" stroke-width="0.45"/>
<line x1="578.9" y1="211" x2="578.9" y2="219.6" stroke="#505050" stroke-width="0.45"/>
<circle cx="578.9" cy="236.3" r="3.2" fill="none" stroke="#2a2a2c" stroke-width="0.6"/>
<line x1="574.6" y1="236.3" x2="583.2" y2="236.3" stroke="#505050" stroke-width="0.45"/>
<line x1="578.9" y1="232" x2="578.9" y2="240.6" stroke="#505050" stroke-width="0.45"/>
<path d="M592.5,241.5 H603.7 V214.1 Q603.7,211.1 600.7,211.1 H595.5 Q592.5,211.1 592.5,214.1 Z" fill="#fff" stroke="#222" stroke-width="0.8"/>
<circle cx="598.1" cy="215.3" r="3.2" fill="none" stroke="#2a2a2c" stroke-width="0.6"/>
<line x1="593.8" y1="215.3" x2="602.4" y2="215.3" stroke="#505050" stroke-width="0.45"/>
<line x1="598.1" y1="211" x2="598.1" y2="219.6" stroke="#505050" stroke-width="0.45"/>
<circle cx="598.1" cy="236.3" r="3.2" fill="none" stroke="#2a2a2c" stroke-width="0.6"/>
<line x1="593.8" y1="236.3" x2="602.4" y2="236.3" stroke="#505050" stroke-width="0.45"/>
<line x1="598.1" y1="232" x2="598.1" y2="240.6" stroke="#505050" stroke-width="0.45"/>
<path d="M611.4,241.5 H622.8 V214.1 Q622.8,211.1 619.8,211.1 H614.4 Q611.4,211.1 611.4,214.1 Z" fill="#fff" stroke="#222" stroke-width="0.8"/>
<circle cx="617.1" cy="215.3" r="3.2" fill="none" stroke="#2a2a2c" stroke-width="0.6"/>
<line x1="612.8" y1="215.3" x2="621.4" y2="215.3" stroke="#505050" stroke-width="0.45"/>
<line x1="617.1" y1="211" x2="617.1" y2="219.6" stroke="#505050" stroke-width="0.45"/>
<circle cx="617.1" cy="236.3" r="3.2" fill="none" stroke="#2a2a2c" stroke-width="0.6"/>
<line x1="612.8" y1="236.3" x2="621.4" y2="236.3" stroke="#505050" stroke-width="0.45"/>
<line x1="617.1" y1="232" x2="617.1" y2="240.6" stroke="#505050" stroke-width="0.45"/>
<circle cx="588.6" cy="214.7" r="2.45" fill="#b0b4bc" stroke="#3a3c40" stroke-width="0.6"/>
<line x1="585.2" y1="214.7" x2="592" y2="214.7" stroke="#3a3c40" stroke-width="0.5"/>
<line x1="588.6" y1="211.3" x2="588.6" y2="218.1" stroke="#3a3c40" stroke-width="0.5"/>
<line x1="579.3" y1="134.5" x2="579.3" y2="245" stroke="#333" stroke-width="0.55"/>
<line x1="544.5" y1="173.3" x2="608" y2="173.3" stroke="#333" stroke-width="0.55"/>
<line x1="621.2" y1="173.3" x2="636" y2="173.3" stroke="#333" stroke-width="0.55"/>
<g transform="translate(539.5 172.3) rotate(0) scale(1)">
<path d="M2.6,-2 A3.2,3.4 0 1 0 2.6,2" fill="none" stroke="#111" stroke-width="1.0"/>
<line x1="0" y1="-3.8" x2="0" y2="5.3" stroke="#111" stroke-width="1.0"/>
<line x1="0" y1="5.3" x2="4" y2="5.3" stroke="#111" stroke-width="1.0"/>
</g>
<text x="580.5" y="75.44" font-size="9.6" text-anchor="middle" fill="#111">3P</text>
<text x="580.3" y="271.94" font-size="9.6" text-anchor="middle" fill="#111">4P</text>
<text x="524.2" y="86.24" font-size="9.6" textLength="19.2" lengthAdjust="spacingAndGlyphs" fill="#111">ø8.5</text>
<line x1="518.3" y1="87" x2="545" y2="87" stroke="#505050" stroke-width="0.6"/>
<line x1="545" y1="87" x2="558.5" y2="108.2" stroke="#505050" stroke-width="0.6"/>
<line x1="573.3" y1="91.5" x2="573.3" y2="103.5" stroke="#505050" stroke-width="0.6"/>
<line x1="584.5" y1="91.5" x2="584.5" y2="103.5" stroke="#505050" stroke-width="0.6"/>
<line x1="573.3" y1="93.3" x2="584.5" y2="93.3" stroke="#505050" stroke-width="0.6"/>
<polygon points="573.3,93.3 576.5,92.55 576.5,94.05" fill="#505050"/>
<polygon points="584.5,93.3 581.3,92.55 581.3,94.05" fill="#505050"/>
<text x="579.2" y="89.17" font-size="9.4" text-anchor="middle" fill="#111">16</text>
<line x1="604" y1="104.2" x2="626.5" y2="104.2" stroke="#505050" stroke-width="0.6"/>
<line x1="600.5" y1="110" x2="615.5" y2="110" stroke="#505050" stroke-width="0.6"/>
<line x1="613.7" y1="100.2" x2="613.7" y2="114" stroke="#505050" stroke-width="0.6"/>
<polygon points="613.7,104.2 612.95,101 614.45,101" fill="#505050"/>
<polygon points="613.7,110 612.95,113.2 614.45,113.2" fill="#505050"/>
<text transform="translate(608.8 99.8) rotate(-90)" x="0" y="3.37" font-size="9.4" text-anchor="middle" fill="#111">8</text>
<line x1="608.8" y1="124.3" x2="627" y2="124.3" stroke="#505050" stroke-width="0.6"/>
<line x1="625" y1="104.2" x2="625" y2="124.3" stroke="#505050" stroke-width="0.6"/>
<polygon points="625,104.2 624.25,107.4 625.75,107.4" fill="#505050"/>
<polygon points="625,124.3 624.25,121.1 625.75,121.1" fill="#505050"/>
<line x1="625" y1="78" x2="625" y2="104.2" stroke="#505050" stroke-width="0.6"/>
<text transform="translate(621 94) rotate(-90)" x="0" y="3.37" font-size="9.4" text-anchor="middle" fill="#111">28.5</text>
<line x1="560.3" y1="240" x2="560.3" y2="256.5" stroke="#505050" stroke-width="0.6"/>
<line x1="578.9" y1="240" x2="578.9" y2="256.5" stroke="#505050" stroke-width="0.6"/>
<line x1="598.1" y1="240" x2="598.1" y2="256.5" stroke="#505050" stroke-width="0.6"/>
<line x1="617.1" y1="240" x2="617.1" y2="256.5" stroke="#505050" stroke-width="0.6"/>
<line x1="560.3" y1="254.3" x2="617.1" y2="254.3" stroke="#505050" stroke-width="0.6"/>
<polygon points="560.3,254.3 563.5,253.55 563.5,255.05" fill="#505050"/>
<polygon points="578.9,254.3 575.7,253.55 575.7,255.05" fill="#505050"/>
<polygon points="578.9,254.3 582.1,253.55 582.1,255.05" fill="#505050"/>
<polygon points="598.1,254.3 594.9,253.55 594.9,255.05" fill="#505050"/>
<polygon points="598.1,254.3 601.3,253.55 601.3,255.05" fill="#505050"/>
<polygon points="617.1,254.3 613.9,253.55 613.9,255.05" fill="#505050"/>
<text x="570.5" y="253.57" font-size="9.4" text-anchor="middle" fill="#111">30</text>
<text x="589" y="253.57" font-size="9.4" text-anchor="middle" fill="#111">30</text>
<text x="607.6" y="253.57" font-size="9.4" text-anchor="middle" fill="#111">30</text>
<rect x="686.4" y="104" width="2.2" height="20.4" fill="#f2f2f4" stroke="#44474c" stroke-width="0.6"/>
<rect x="686.5" y="221.5" width="2.3" height="20" fill="#f2f2f4" stroke="#44474c" stroke-width="0.6"/>
<polygon points="665.2,124.4 704.1,124.4 704.1,221.5 665.3,221.5 665.3,205.4 660.8,205.4 660.8,141 665.2,141" fill="#9a9da3" stroke="#55585e" stroke-width="0.8"/>
<line x1="665.2" y1="124.4" x2="704.1" y2="124.4" stroke="#2a2a2c" stroke-width="0.85"/>
<line x1="665.2" y1="124.4" x2="665.2" y2="141" stroke="#2e2f33" stroke-width="0.8"/>
<line x1="704.1" y1="124.4" x2="704.1" y2="221.5" stroke="#3a3c40" stroke-width="0.7"/>
<line x1="665.3" y1="221.5" x2="704.1" y2="221.5" stroke="#3a3c40" stroke-width="0.75"/>
<rect x="656.3" y="157.4" width="4.5" height="31.6" fill="#aaaeb6" stroke="#44474c" stroke-width="0.7"/>
<line x1="658.6" y1="157.4" x2="658.6" y2="189" stroke="#55585e" stroke-width="0.6"/>
<polygon points="656.3,163.4 656.3,168.4 648.6,163.3 650.6,160.2" fill="#a8acb4" stroke="#1c1c1e" stroke-width="1.0"/>
<line x1="646" y1="172.8" x2="709.5" y2="172.8" stroke="#333" stroke-width="0.55"/>
<line x1="686.3" y1="78.5" x2="686.3" y2="104" stroke="#505050" stroke-width="0.6"/>
<line x1="688.7" y1="89" x2="688.7" y2="104" stroke="#505050" stroke-width="0.6"/>
<line x1="704.1" y1="78.5" x2="704.1" y2="120.5" stroke="#505050" stroke-width="0.6"/>
<line x1="686.3" y1="80.5" x2="704.1" y2="80.5" stroke="#505050" stroke-width="0.6"/>
<polygon points="686.3,80.5 689.5,79.75 689.5,81.25" fill="#505050"/>
<polygon points="704.1,80.5 700.9,79.75 700.9,81.25" fill="#505050"/>
<text x="695.2" y="77.57" font-size="9.4" text-anchor="middle" fill="#111">27.2</text>
<line x1="667.5" y1="91.5" x2="697.8" y2="91.5" stroke="#505050" stroke-width="0.6"/>
<polygon points="686.3,91.5 683.1,90.75 683.1,92.25" fill="#505050"/>
<polygon points="688.7,91.5 691.9,90.75 691.9,92.25" fill="#505050"/>
<text x="674.9" y="89.97" font-size="9.4" text-anchor="middle" fill="#111">3.2</text>
<line x1="686.5" y1="241.3" x2="686.5" y2="267.5" stroke="#505050" stroke-width="0.6"/>
<line x1="688.9" y1="241.3" x2="688.9" y2="257" stroke="#505050" stroke-width="0.6"/>
<line x1="704.1" y1="224.5" x2="704.1" y2="267.5" stroke="#505050" stroke-width="0.6"/>
<line x1="670" y1="254.3" x2="698.4" y2="254.3" stroke="#505050" stroke-width="0.6"/>
<polygon points="686.5,254.3 683.3,253.55 683.3,255.05" fill="#505050"/>
<polygon points="688.9,254.3 692.1,253.55 692.1,255.05" fill="#505050"/>
<text x="677.8" y="253.37" font-size="9.4" text-anchor="middle" fill="#111">3.2</text>
<line x1="661.6" y1="265.2" x2="704.1" y2="265.2" stroke="#505050" stroke-width="0.6"/>
<polygon points="686.5,265.2 689.7,264.45 689.7,265.95" fill="#505050"/>
<polygon points="704.1,265.2 700.9,264.45 700.9,265.95" fill="#505050"/>
<text x="674.5" y="264.37" font-size="9.4" text-anchor="middle" fill="#111">27.2</text>
<text x="786.3" y="15.67" font-size="10.24" text-anchor="middle" textLength="53.5" lengthAdjust="spacingAndGlyphs" fill="#111">Drilling plan</text>
<text x="757.4" y="87.24" font-size="9.6" text-anchor="middle" fill="#111">3P</text>
<text x="830.2" y="87.24" font-size="9.6" text-anchor="middle" fill="#111">4P</text>
<rect x="729.4" y="123.7" width="58.8" height="98.3" fill="none" stroke="#777" stroke-width="0.6" stroke-dasharray="3 1.2 1 1.2"/>
<rect x="802.3" y="123.7" width="76.5" height="98.3" fill="none" stroke="#777" stroke-width="0.6" stroke-dasharray="3 1.2 1 1.2"/>
<line x1="758.5" y1="117.7" x2="758.5" y2="228" stroke="#444" stroke-width="0.55"/>
<line x1="726.3" y1="172.7" x2="791" y2="172.7" stroke="#444" stroke-width="0.55"/>
<line x1="831.5" y1="117.7" x2="831.5" y2="228" stroke="#444" stroke-width="0.55"/>
<line x1="799.7" y1="172.7" x2="882" y2="172.7" stroke="#444" stroke-width="0.55"/>
<line x1="756.2" y1="106.8" x2="756.2" y2="112.7" stroke="#111" stroke-width="0.95" stroke-linecap="square"/>
<line x1="760.4" y1="106.8" x2="760.4" y2="112.7" stroke="#111" stroke-width="0.95" stroke-linecap="square"/>
<line x1="756.2" y1="109.7" x2="760.4" y2="109.7" stroke="#111" stroke-width="0.95"/>
<line x1="758.4" y1="108.9" x2="758.4" y2="114.7" stroke="#111" stroke-width="0.95" stroke-linecap="square"/>
<line x1="758.4" y1="114.7" x2="762.2" y2="114.7" stroke="#111" stroke-width="0.95" stroke-linecap="square"/>
<line x1="828.9" y1="106.8" x2="828.9" y2="112.7" stroke="#111" stroke-width="0.95" stroke-linecap="square"/>
<line x1="833.1" y1="106.8" x2="833.1" y2="112.7" stroke="#111" stroke-width="0.95" stroke-linecap="square"/>
<line x1="828.9" y1="109.7" x2="833.1" y2="109.7" stroke="#111" stroke-width="0.95"/>
<line x1="831.1" y1="108.9" x2="831.1" y2="114.7" stroke="#111" stroke-width="0.95" stroke-linecap="square"/>
<line x1="831.1" y1="114.7" x2="834.9" y2="114.7" stroke="#111" stroke-width="0.95" stroke-linecap="square"/>
<line x1="749" y1="131.7" x2="749" y2="247" stroke="#505050" stroke-width="0.6"/>
<line x1="768.3" y1="214.2" x2="768.3" y2="247" stroke="#505050" stroke-width="0.6"/>
<circle cx="749" cy="131.7" r="1.3" fill="#111" stroke="#111" stroke-width="0.2"/>
<line x1="746" y1="131.7" x2="752" y2="131.7" stroke="#505050" stroke-width="0.45"/>
<circle cx="768.3" cy="214.2" r="1.3" fill="#111" stroke="#111" stroke-width="0.2"/>
<line x1="765.3" y1="214.2" x2="771.3" y2="214.2" stroke="#505050" stroke-width="0.45"/>
<line x1="749" y1="244.3" x2="768.3" y2="244.3" stroke="#505050" stroke-width="0.6"/>
<polygon points="749,244.3 752.2,243.55 752.2,245.05" fill="#505050"/>
<polygon points="768.3,244.3 765.1,243.55 765.1,245.05" fill="#505050"/>
<text x="757.9" y="242.77" font-size="9.4" text-anchor="middle" fill="#111">30</text>
<line x1="821.6" y1="214.2" x2="821.6" y2="247" stroke="#505050" stroke-width="0.6"/>
<line x1="840.7" y1="214.2" x2="840.7" y2="247" stroke="#505050" stroke-width="0.6"/>
<circle cx="821.6" cy="131.7" r="1.3" fill="#111" stroke="#111" stroke-width="0.2"/>
<line x1="818.6" y1="131.7" x2="824.6" y2="131.7" stroke="#505050" stroke-width="0.45"/>
<circle cx="821.6" cy="214.2" r="1.3" fill="#111" stroke="#111" stroke-width="0.2"/>
<line x1="818.6" y1="214.2" x2="824.6" y2="214.2" stroke="#505050" stroke-width="0.45"/>
<circle cx="840.7" cy="131.7" r="1.3" fill="#111" stroke="#111" stroke-width="0.2"/>
<line x1="837.7" y1="131.7" x2="843.7" y2="131.7" stroke="#505050" stroke-width="0.45"/>
<circle cx="840.7" cy="214.2" r="1.3" fill="#111" stroke="#111" stroke-width="0.2"/>
<line x1="837.7" y1="214.2" x2="843.7" y2="214.2" stroke="#505050" stroke-width="0.45"/>
<line x1="821.6" y1="244.3" x2="840.7" y2="244.3" stroke="#505050" stroke-width="0.6"/>
<polygon points="821.6,244.3 824.8,243.55 824.8,245.05" fill="#505050"/>
<polygon points="840.7,244.3 837.5,243.55 837.5,245.05" fill="#505050"/>
<text x="830.3" y="242.77" font-size="9.4" text-anchor="middle" fill="#111">30</text>
<line x1="840.7" y1="131.7" x2="900.5" y2="131.7" stroke="#505050" stroke-width="0.6"/>
<line x1="840.7" y1="214.2" x2="900.5" y2="214.2" stroke="#505050" stroke-width="0.6"/>
<line x1="898.2" y1="131.7" x2="898.2" y2="214.2" stroke="#505050" stroke-width="0.6"/>
<polygon points="898.2,131.7 897.45,134.9 898.95,134.9" fill="#505050"/>
<polygon points="898.2,214.2 897.45,211 898.95,211" fill="#505050"/>
<text transform="translate(893.8 173.5) rotate(-90)" x="0" y="3.37" font-size="9.4" text-anchor="middle" fill="#111">132</text>
<text x="866.6" y="239.25" font-size="10.19" textLength="33.4" lengthAdjust="spacingAndGlyphs" fill="#111">M4x0.7</text>
<line x1="866" y1="240.9" x2="924" y2="240.9" stroke="#505050" stroke-width="0.6"/>
<line x1="866" y1="240.9" x2="841.5" y2="215" stroke="#505050" stroke-width="0.6"/>
<text x="866.6" y="250.04" font-size="10.17" textLength="55.4" lengthAdjust="spacingAndGlyphs" fill="#111">Tapped hole</text>
<line x1="121.8" y1="408" x2="121.8" y2="560" stroke="#9a9a9a" stroke-width="0.5" stroke-dasharray="3 1 1 1"/>
<line x1="124.3" y1="408" x2="124.3" y2="530" stroke="#aaa" stroke-width="0.5" stroke-dasharray="3 1 1 1"/>
<polygon points="83.7,420.4 122,420.4 122,516.6 84.4,516.6 84.4,500.3 79.5,500.3 79.5,437 83.6,437" fill="#9a9da3" stroke="#55585e" stroke-width="0.8"/>
<line x1="83.6" y1="420.4" x2="122" y2="420.4" stroke="#2a2a2c" stroke-width="0.85"/>
<line x1="83.7" y1="420.4" x2="83.7" y2="437" stroke="#3e4045" stroke-width="0.7"/>
<line x1="84.4" y1="516.6" x2="122" y2="516.6" stroke="#3a3c40" stroke-width="0.75"/>
<rect x="74.5" y="453" width="5" height="31" fill="#aaaeb6" stroke="#44474c" stroke-width="0.7"/>
<line x1="77.1" y1="453" x2="77.1" y2="484" stroke="#55585e" stroke-width="0.6"/>
<polygon points="74.5,458.8 74.5,463.8 66.8,458.7 68.8,455.6" fill="#a8acb4" stroke="#1c1c1e" stroke-width="1.0"/>
<path d="M66.8,458.7 Q64.8,462.5 64.8,470" fill="none" stroke="#505050" stroke-width="0.5"/>
<rect x="122" y="422.4" width="42" height="8.6" fill="#9a9ea6" stroke="#3a3c40" stroke-width="0.7"/>
<rect x="132.4" y="422.4" width="22.6" height="8.6" fill="#a9adb4" stroke="#3a3c40" stroke-width="0.7"/>
<rect x="135" y="425" width="19" height="3.4" fill="#e4e5e8" stroke="#3a3c40" stroke-width="0.6"/>
<line x1="145" y1="422.4" x2="145" y2="431" stroke="#3a3c40" stroke-width="0.5"/>
<rect x="164" y="425" width="21.6" height="3.4" fill="#85898f" stroke="#3a3c40" stroke-width="0.6"/>
<line x1="176" y1="423" x2="176" y2="430.5" stroke="#3a3c40" stroke-width="0.5"/>
<line x1="186.5" y1="425" x2="200.5" y2="425" stroke="#888" stroke-width="0.5" stroke-dasharray="2.5 1.2"/>
<line x1="186.5" y1="428.4" x2="200.5" y2="428.4" stroke="#888" stroke-width="0.5" stroke-dasharray="2.5 1.2"/>
<line x1="118" y1="426.7" x2="134" y2="426.7" stroke="#666" stroke-width="0.45"/>
<line x1="200.7" y1="426.7" x2="211" y2="426.7" stroke="#555" stroke-width="0.45"/>
<rect x="122" y="506.3" width="10.7" height="8.2" fill="#8e9299" stroke="#3a3c40" stroke-width="0.7"/>
<rect x="154.7" y="506.3" width="9.1" height="8.2" fill="#8e9299" stroke="#3a3c40" stroke-width="0.7"/>
<path d="M132.7,507.3 H135.3 L137.3,505.2 H152.3 Q153.9,505.2 153.9,506.8 V513.8 Q153.9,515.4 152.3,515.4 H137.3 L135.3,513.2 H132.7 Z" fill="#fff" stroke="#222" stroke-width="0.8"/>
<path d="M163.8,507.3 H166.4 L168.4,505.2 H184.5 Q186.1,505.2 186.1,506.8 V513.8 Q186.1,515.4 184.5,515.4 H168.4 L166.4,513.2 H163.8 Z" fill="#fff" stroke="#222" stroke-width="0.8"/>
<circle cx="145.1" cy="510.3" r="2.9" fill="none" stroke="#222" stroke-width="0.7"/>
<circle cx="176.3" cy="510.3" r="2.9" fill="none" stroke="#222" stroke-width="0.7"/>
<line x1="118" y1="510.3" x2="190" y2="510.3" stroke="#555" stroke-width="0.45"/>
<line x1="201.3" y1="510.3" x2="211" y2="510.3" stroke="#555" stroke-width="0.45"/>
<line x1="176.3" y1="502.5" x2="176.3" y2="510.3" stroke="#555" stroke-width="0.45"/>
<line x1="61" y1="468.4" x2="125" y2="468.4" stroke="#333" stroke-width="0.55"/>
<g transform="translate(58.7 468.2) rotate(0) scale(1)">
<path d="M2.6,-2 A3.2,3.4 0 1 0 2.6,2" fill="none" stroke="#111" stroke-width="1.0"/>
<line x1="0" y1="-3.8" x2="0" y2="5.3" stroke="#111" stroke-width="1.0"/>
<line x1="0" y1="5.3" x2="4" y2="5.3" stroke="#111" stroke-width="1.0"/>
</g>
<text x="139" y="390.53" font-size="10.14" textLength="66.5" lengthAdjust="spacingAndGlyphs" fill="#111">Mounting plate</text>
<line x1="139" y1="391.7" x2="206" y2="391.7" stroke="#505050" stroke-width="0.6"/>
<line x1="139" y1="391.7" x2="124" y2="412.6" stroke="#505050" stroke-width="0.6"/>
<text x="139" y="401.44" font-size="10.17" textLength="48.6" lengthAdjust="spacingAndGlyphs" fill="#111">(max. t3.2)</text>
<text x="135.6" y="473.67" font-size="9.4" fill="#111">15</text>
<text x="148.2" y="473.24" font-size="8.2" textLength="37.6" lengthAdjust="spacingAndGlyphs" fill="#111">Conductor</text>
<line x1="135.6" y1="474.5" x2="195.5" y2="474.5" stroke="#505050" stroke-width="0.6"/>
<text x="148.2" y="483.94" font-size="8.2" textLength="46.6" lengthAdjust="spacingAndGlyphs" fill="#111">overlap max.</text>
<line x1="135.2" y1="474.5" x2="135.2" y2="506.5" stroke="#505050" stroke-width="0.6"/>
<line x1="145.1" y1="474.5" x2="145.1" y2="542" stroke="#505050" stroke-width="0.6"/>
<line x1="199.3" y1="418" x2="199.3" y2="435.4" stroke="#505050" stroke-width="0.6"/>
<polygon points="199.3,425 198.55,421.8 200.05,421.8" fill="#505050"/>
<polygon points="199.3,428.4 198.55,431.6 200.05,431.6" fill="#505050"/>
<text transform="translate(194.4 420.7) rotate(-90)" x="0" y="3.37" font-size="9.4" text-anchor="middle" fill="#111">5</text>
<line x1="209.3" y1="426.7" x2="209.3" y2="510.3" stroke="#505050" stroke-width="0.6"/>
<polygon points="209.3,426.7 208.55,429.9 210.05,429.9" fill="#505050"/>
<polygon points="209.3,510.3 208.55,507.1 210.05,507.1" fill="#505050"/>
<text transform="translate(204.9 468.3) rotate(-90)" x="0" y="3.37" font-size="9.4" text-anchor="middle" fill="#111">134</text>
<line x1="186.3" y1="505.2" x2="200.8" y2="505.2" stroke="#505050" stroke-width="0.6"/>
<line x1="186.3" y1="515.4" x2="200.8" y2="515.4" stroke="#505050" stroke-width="0.6"/>
<line x1="199.7" y1="505.2" x2="199.7" y2="515.4" stroke="#505050" stroke-width="0.6"/>
<polygon points="199.7,505.2 198.95,508.4 200.45,508.4" fill="#505050"/>
<polygon points="199.7,515.4 198.95,512.2 200.45,512.2" fill="#505050"/>
<text transform="translate(194.7 510.3) rotate(-90)" x="0" y="2.94" font-size="8.2" text-anchor="middle" textLength="7.2" lengthAdjust="spacingAndGlyphs" fill="#111">16</text>
<text x="122" y="536.29" font-size="9.2" textLength="16" lengthAdjust="spacingAndGlyphs" fill="#111">ø8.5</text>
<line x1="122" y1="537.3" x2="139.9" y2="537.3" stroke="#505050" stroke-width="0.6"/>
<line x1="139.9" y1="537.3" x2="144.3" y2="513.6" stroke="#505050" stroke-width="0.6"/>
<line x1="153.9" y1="515.6" x2="153.9" y2="551.5" stroke="#505050" stroke-width="0.6"/>
<line x1="145.1" y1="540.4" x2="153.9" y2="540.4" stroke="#505050" stroke-width="0.6"/>
<polygon points="145.1,540.4 148.3,539.65 148.3,541.15" fill="#505050"/>
<polygon points="153.9,540.4 150.7,539.65 150.7,541.15" fill="#505050"/>
<text x="149.9" y="539.44" font-size="9.6" text-anchor="middle" textLength="7.5" lengthAdjust="spacingAndGlyphs" fill="#111">15</text>
<line x1="176.3" y1="510.3" x2="176.3" y2="542" stroke="#505050" stroke-width="0.6"/>
<line x1="185.6" y1="515.6" x2="185.6" y2="561.5" stroke="#505050" stroke-width="0.6"/>
<line x1="176.3" y1="540.4" x2="185.6" y2="540.4" stroke="#505050" stroke-width="0.6"/>
<polygon points="176.3,540.4 179.5,539.65 179.5,541.15" fill="#505050"/>
<polygon points="185.6,540.4 182.4,539.65 182.4,541.15" fill="#505050"/>
<text x="181.3" y="539.44" font-size="9.6" text-anchor="middle" textLength="7.5" lengthAdjust="spacingAndGlyphs" fill="#111">15</text>
<line x1="79.8" y1="500.5" x2="79.8" y2="551.5" stroke="#505050" stroke-width="0.6"/>
<line x1="122" y1="516.6" x2="122" y2="572.5" stroke="#505050" stroke-width="0.6"/>
<line x1="79.8" y1="549" x2="122" y2="549" stroke="#505050" stroke-width="0.6"/>
<polygon points="79.8,549 83,548.25 83,549.75" fill="#505050"/>
<polygon points="122,549 118.8,548.25 118.8,549.75" fill="#505050"/>
<text x="102.7" y="548.47" font-size="9.4" text-anchor="middle" fill="#111">68</text>
<line x1="122" y1="549" x2="153.9" y2="549" stroke="#505050" stroke-width="0.6"/>
<polygon points="122,549 125.2,548.25 125.2,549.75" fill="#505050"/>
<polygon points="153.9,549 150.7,548.25 150.7,549.75" fill="#505050"/>
<text x="138.6" y="548.47" font-size="9.4" text-anchor="middle" fill="#111">52</text>
<line x1="76.8" y1="484.2" x2="76.8" y2="561.5" stroke="#505050" stroke-width="0.6"/>
<line x1="76.8" y1="558.8" x2="122" y2="558.8" stroke="#505050" stroke-width="0.6"/>
<polygon points="76.8,558.8 80,558.05 80,559.55" fill="#505050"/>
<polygon points="122,558.8 118.8,558.05 118.8,559.55" fill="#505050"/>
<text x="101.3" y="558.37" font-size="9.4" text-anchor="middle" fill="#111">72</text>
<line x1="122" y1="558.8" x2="185.6" y2="558.8" stroke="#505050" stroke-width="0.6"/>
<polygon points="122,558.8 125.2,558.05 125.2,559.55" fill="#505050"/>
<polygon points="185.6,558.8 182.4,558.05 182.4,559.55" fill="#505050"/>
<text x="154.4" y="559.17" font-size="9.4" text-anchor="middle" fill="#111">102</text>
<line x1="64.8" y1="470" x2="64.8" y2="572.5" stroke="#505050" stroke-width="0.6"/>
<line x1="64.8" y1="570" x2="122" y2="570" stroke="#505050" stroke-width="0.6"/>
<polygon points="64.8,570 68,569.25 68,570.75" fill="#505050"/>
<polygon points="122,570 118.8,569.25 118.8,570.75" fill="#505050"/>
<text x="93" y="569.17" font-size="9.4" text-anchor="middle" fill="#111">92</text>
<text x="186.7" y="569.62" font-size="10.12" textLength="54" lengthAdjust="spacingAndGlyphs" fill="#111">Stud can be</text>
<text x="186.7" y="580.38" font-size="10.27" textLength="75" lengthAdjust="spacingAndGlyphs" fill="#111">turned 45°or 90°</text>
<line x1="183.5" y1="582.6" x2="262" y2="582.6" stroke="#505050" stroke-width="0.6"/>
<line x1="183.5" y1="582.6" x2="170" y2="516.8" stroke="#505050" stroke-width="0.6"/>
<rect x="283.4" y="413.6" width="9" height="7" fill="#a4a8b0" stroke="#33353a" stroke-width="0.8"/>
<rect x="280.6" y="420.4" width="14.4" height="3.2" fill="#a4a8b0" stroke="#33353a" stroke-width="0.8"/>
<rect x="264.4" y="468" width="9.2" height="10" fill="#9b9fa7" stroke="#2e3034" stroke-width="0.8"/>
<line x1="266.7" y1="468.5" x2="266.7" y2="477.5" stroke="#b6bac1" stroke-width="0.6"/>
<line x1="271.3" y1="468.5" x2="271.3" y2="477.5" stroke="#83878e" stroke-width="0.5"/>
<rect x="267.5" y="478" width="3" height="23" fill="#b9bcc2" stroke="#33353a" stroke-width="0.6" rx="0.8"/>
<line x1="265.2" y1="491.8" x2="272.8" y2="491.8" stroke="#555" stroke-width="0.45"/>
<line x1="269" y1="464.5" x2="269" y2="471" stroke="#44474c" stroke-width="0.5"/>
<rect x="283.4" y="468" width="9.2" height="42" fill="#9b9fa7" stroke="#2e3034" stroke-width="0.8"/>
<line x1="285.7" y1="468.5" x2="285.7" y2="509.5" stroke="#b6bac1" stroke-width="0.6"/>
<line x1="290.3" y1="468.5" x2="290.3" y2="509.5" stroke="#83878e" stroke-width="0.5"/>
<rect x="286.5" y="510" width="3" height="22.4" fill="#b9bcc2" stroke="#33353a" stroke-width="0.6" rx="0.8"/>
<line x1="284.2" y1="523.3" x2="291.8" y2="523.3" stroke="#555" stroke-width="0.45"/>
<line x1="288" y1="464.5" x2="288" y2="471" stroke="#44474c" stroke-width="0.5"/>
<rect x="302" y="468" width="9.2" height="10" fill="#9b9fa7" stroke="#2e3034" stroke-width="0.8"/>
<line x1="304.3" y1="468.5" x2="304.3" y2="477.5" stroke="#b6bac1" stroke-width="0.6"/>
<line x1="308.9" y1="468.5" x2="308.9" y2="477.5" stroke="#83878e" stroke-width="0.5"/>
<rect x="305.1" y="478" width="3" height="23" fill="#b9bcc2" stroke="#33353a" stroke-width="0.6" rx="0.8"/>
<line x1="302.8" y1="491.8" x2="310.4" y2="491.8" stroke="#555" stroke-width="0.45"/>
<line x1="306.6" y1="464.5" x2="306.6" y2="471" stroke="#44474c" stroke-width="0.5"/>
<rect x="321" y="468" width="9.2" height="42" fill="#9b9fa7" stroke="#2e3034" stroke-width="0.8"/>
<line x1="323.3" y1="468.5" x2="323.3" y2="509.5" stroke="#b6bac1" stroke-width="0.6"/>
<line x1="327.9" y1="468.5" x2="327.9" y2="509.5" stroke="#83878e" stroke-width="0.5"/>
<rect x="324.1" y="510" width="3" height="22.4" fill="#b9bcc2" stroke="#33353a" stroke-width="0.6" rx="0.8"/>
<line x1="321.8" y1="523.3" x2="329.4" y2="523.3" stroke="#555" stroke-width="0.45"/>
<line x1="325.6" y1="464.5" x2="325.6" y2="471" stroke="#44474c" stroke-width="0.5"/>
<rect x="277" y="468" width="4" height="4" fill="#fff" stroke="#33353a" stroke-width="0.6"/>
<rect x="295.6" y="468" width="2.8" height="5" fill="#fff" stroke="#33353a" stroke-width="0.6"/>
<rect x="259.4" y="423.6" width="74.6" height="44.4" fill="#9a9da3" stroke="#44474c" stroke-width="0.9"/>
<line x1="259.4" y1="423.6" x2="334" y2="423.6" stroke="#222" stroke-width="1.1"/>
<line x1="259.4" y1="426.4" x2="334" y2="426.4" stroke="#55585e" stroke-width="0.8"/>
<line x1="259.4" y1="430" x2="334" y2="430" stroke="#b4b8bf" stroke-width="0.7"/>
<line x1="316" y1="423.6" x2="316" y2="468" stroke="#33353a" stroke-width="1.0"/>
<line x1="317.6" y1="423.6" x2="317.6" y2="468" stroke="#b4b8bf" stroke-width="0.6"/>
<line x1="288" y1="424" x2="288" y2="468" stroke="#44474c" stroke-width="0.6"/>
<line x1="247" y1="468" x2="359.5" y2="468" stroke="#555" stroke-width="0.5" stroke-dasharray="5 1 1 1"/>
<line x1="247" y1="470.4" x2="310" y2="470.4" stroke="#555" stroke-width="0.5" stroke-dasharray="5 1 1 1"/>
<line x1="310" y1="473" x2="359.5" y2="473" stroke="#555" stroke-width="0.5"/>
<line x1="288" y1="409.5" x2="288" y2="424" stroke="#333" stroke-width="0.55"/>
<line x1="286.3" y1="401.8" x2="286.3" y2="407.7" stroke="#111" stroke-width="0.95" stroke-linecap="square"/>
<line x1="290.5" y1="401.8" x2="290.5" y2="407.7" stroke="#111" stroke-width="0.95" stroke-linecap="square"/>
<line x1="286.3" y1="404.7" x2="290.5" y2="404.7" stroke="#111" stroke-width="0.95"/>
<line x1="288.5" y1="403.9" x2="288.5" y2="409.7" stroke="#111" stroke-width="0.95" stroke-linecap="square"/>
<line x1="288.5" y1="409.7" x2="292.3" y2="409.7" stroke="#111" stroke-width="0.95" stroke-linecap="square"/>
<line x1="259.4" y1="371.5" x2="259.4" y2="423.6" stroke="#505050" stroke-width="0.6"/>
<line x1="334" y1="371.5" x2="334" y2="422.6" stroke="#505050" stroke-width="0.6"/>
<line x1="316" y1="383.5" x2="316" y2="422.6" stroke="#505050" stroke-width="0.6"/>
<line x1="259.4" y1="373.6" x2="334" y2="373.6" stroke="#505050" stroke-width="0.6"/>
<polygon points="259.4,373.6 262.6,372.85 262.6,374.35" fill="#505050"/>
<polygon points="334,373.6 330.8,372.85 330.8,374.35" fill="#505050"/>
<text x="297.4" y="372.7" font-size="9.5" text-anchor="middle" textLength="11" lengthAdjust="spacingAndGlyphs" fill="#111">4P</text>
<line x1="259.4" y1="385.6" x2="316" y2="385.6" stroke="#505050" stroke-width="0.6"/>
<polygon points="259.4,385.6 262.6,384.85 262.6,386.35" fill="#505050"/>
<polygon points="316,385.6 312.8,384.85 312.8,386.35" fill="#505050"/>
<text x="287.4" y="384.4" font-size="9.5" text-anchor="middle" textLength="11" lengthAdjust="spacingAndGlyphs" fill="#111">3P</text>
<line x1="357.4" y1="460" x2="357.4" y2="481" stroke="#505050" stroke-width="0.6"/>
<polygon points="357.4,468 356.65,464.8 358.15,464.8" fill="#505050"/>
<polygon points="357.4,473 356.65,476.2 358.15,476.2" fill="#505050"/>
<text transform="translate(352.6 463) rotate(-90)" x="0" y="3.37" font-size="9.4" text-anchor="middle" fill="#111">8</text>
<line x1="269" y1="501" x2="269" y2="546.5" stroke="#505050" stroke-width="0.6"/>
<line x1="288" y1="532.4" x2="288" y2="546.5" stroke="#505050" stroke-width="0.6"/>
<line x1="306.6" y1="501" x2="306.6" y2="546.5" stroke="#505050" stroke-width="0.6"/>
<line x1="325.6" y1="532.4" x2="325.6" y2="546.5" stroke="#505050" stroke-width="0.6"/>
<line x1="269" y1="544" x2="325.6" y2="544" stroke="#505050" stroke-width="0.6"/>
<polygon points="269,544 272.2,543.25 272.2,544.75" fill="#505050"/>
<polygon points="288,544 284.8,543.25 284.8,544.75" fill="#505050"/>
<polygon points="288,544 291.2,543.25 291.2,544.75" fill="#505050"/>
<polygon points="306.6,544 303.4,543.25 303.4,544.75" fill="#505050"/>
<polygon points="306.6,544 309.8,543.25 309.8,544.75" fill="#505050"/>
<polygon points="325.6,544 322.4,543.25 322.4,544.75" fill="#505050"/>
<text x="278" y="542.77" font-size="9.4" text-anchor="middle" fill="#111">30</text>
<text x="297" y="542.77" font-size="9.4" text-anchor="middle" fill="#111">30</text>
<text x="316" y="542.77" font-size="9.4" text-anchor="middle" fill="#111">30</text>
<text x="339" y="534.39" font-size="10.04" textLength="34.6" lengthAdjust="spacingAndGlyphs" fill="#111">M4X0.7</text>
<line x1="339" y1="535.4" x2="390" y2="535.4" stroke="#505050" stroke-width="0.6"/>
<line x1="339" y1="535.4" x2="297" y2="473" stroke="#505050" stroke-width="0.6"/>
<text x="339" y="545.06" font-size="10.21" textLength="42" lengthAdjust="spacingAndGlyphs" fill="#111">Mounting</text>
<text x="339" y="555.7" font-size="10.34" textLength="27" lengthAdjust="spacingAndGlyphs" fill="#111">screw</text>
<text x="501" y="356.23" font-size="10.43" text-anchor="middle" textLength="54.5" lengthAdjust="spacingAndGlyphs" fill="#111">Drilling plan</text>
<text x="456.4" y="387.44" font-size="9.6" text-anchor="middle" fill="#111">3P</text>
<text x="550.3" y="387.44" font-size="9.6" text-anchor="middle" fill="#111">4P</text>
<rect x="429.3" y="420.2" width="56.7" height="96.3" fill="none" stroke="#222" stroke-width="0.9" stroke-dasharray="4.5 1.2 1 1.2"/>
<rect x="522" y="420.2" width="75.8" height="96.3" fill="none" stroke="#222" stroke-width="0.9" stroke-dasharray="4.5 1.2 1 1.2"/>
<line x1="455.7" y1="401.5" x2="455.7" y2="407.4" stroke="#111" stroke-width="0.95" stroke-linecap="square"/>
<line x1="459.9" y1="401.5" x2="459.9" y2="407.4" stroke="#111" stroke-width="0.95" stroke-linecap="square"/>
<line x1="455.7" y1="404.4" x2="459.9" y2="404.4" stroke="#111" stroke-width="0.95"/>
<line x1="457.9" y1="403.6" x2="457.9" y2="409.4" stroke="#111" stroke-width="0.95" stroke-linecap="square"/>
<line x1="457.9" y1="409.4" x2="461.7" y2="409.4" stroke="#111" stroke-width="0.95" stroke-linecap="square"/>
<line x1="549.5" y1="401.3" x2="549.5" y2="407.2" stroke="#111" stroke-width="0.95" stroke-linecap="square"/>
<line x1="553.7" y1="401.3" x2="553.7" y2="407.2" stroke="#111" stroke-width="0.95" stroke-linecap="square"/>
<line x1="549.5" y1="404.2" x2="553.7" y2="404.2" stroke="#111" stroke-width="0.95"/>
<line x1="551.7" y1="403.4" x2="551.7" y2="409.2" stroke="#111" stroke-width="0.95" stroke-linecap="square"/>
<line x1="551.7" y1="409.2" x2="555.5" y2="409.2" stroke="#111" stroke-width="0.95" stroke-linecap="square"/>
<line x1="457.2" y1="414" x2="457.2" y2="522.7" stroke="#444" stroke-width="0.5"/>
<line x1="426.5" y1="469" x2="489" y2="469" stroke="#444" stroke-width="0.5"/>
<line x1="550.7" y1="414" x2="550.7" y2="555" stroke="#444" stroke-width="0.5"/>
<line x1="519.5" y1="469" x2="601" y2="469" stroke="#444" stroke-width="0.5"/>
<circle cx="438.4" cy="426.8" r="5.9" fill="#fff" stroke="#111" stroke-width="0.9"/>
<line x1="431.4" y1="426.8" x2="445.4" y2="426.8" stroke="#555" stroke-width="0.45"/>
<line x1="438.4" y1="419.8" x2="438.4" y2="433.8" stroke="#555" stroke-width="0.45"/>
<circle cx="438.4" cy="510.5" r="5.9" fill="#fff" stroke="#111" stroke-width="0.9"/>
<line x1="431.4" y1="510.5" x2="445.4" y2="510.5" stroke="#555" stroke-width="0.45"/>
<line x1="438.4" y1="503.5" x2="438.4" y2="517.5" stroke="#555" stroke-width="0.45"/>
<circle cx="457.2" cy="426.8" r="5.9" fill="#fff" stroke="#111" stroke-width="0.9"/>
<line x1="450.2" y1="426.8" x2="464.2" y2="426.8" stroke="#555" stroke-width="0.45"/>
<line x1="457.2" y1="419.8" x2="457.2" y2="433.8" stroke="#555" stroke-width="0.45"/>
<circle cx="457.2" cy="510.5" r="5.9" fill="#fff" stroke="#111" stroke-width="0.9"/>
<line x1="450.2" y1="510.5" x2="464.2" y2="510.5" stroke="#555" stroke-width="0.45"/>
<line x1="457.2" y1="503.5" x2="457.2" y2="517.5" stroke="#555" stroke-width="0.45"/>
<circle cx="476.2" cy="426.8" r="5.9" fill="#fff" stroke="#111" stroke-width="0.9"/>
<line x1="469.2" y1="426.8" x2="483.2" y2="426.8" stroke="#555" stroke-width="0.45"/>
<line x1="476.2" y1="419.8" x2="476.2" y2="433.8" stroke="#555" stroke-width="0.45"/>
<circle cx="476.2" cy="510.5" r="5.9" fill="#fff" stroke="#111" stroke-width="0.9"/>
<line x1="469.2" y1="510.5" x2="483.2" y2="510.5" stroke="#555" stroke-width="0.45"/>
<line x1="476.2" y1="503.5" x2="476.2" y2="517.5" stroke="#555" stroke-width="0.45"/>
<line x1="431" y1="426.8" x2="484" y2="426.8" stroke="#555" stroke-width="0.45"/>
<line x1="431" y1="510.5" x2="484" y2="510.5" stroke="#555" stroke-width="0.45"/>
<circle cx="447.7" cy="426.8" r="1.1" fill="#333" stroke="#333" stroke-width="0.2"/>
<circle cx="466.8" cy="510.5" r="1.1" fill="#333" stroke="#333" stroke-width="0.2"/>
<line x1="447.7" y1="426.8" x2="447.7" y2="542.5" stroke="#505050" stroke-width="0.6"/>
<line x1="466.8" y1="510.5" x2="466.8" y2="542.5" stroke="#505050" stroke-width="0.6"/>
<line x1="447.7" y1="540" x2="466.8" y2="540" stroke="#505050" stroke-width="0.6"/>
<polygon points="447.7,540 450.9,539.25 450.9,540.75" fill="#505050"/>
<polygon points="466.8,540 463.6,539.25 463.6,540.75" fill="#505050"/>
<text x="457.2" y="539.07" font-size="9.4" text-anchor="middle" fill="#111">30</text>
<line x1="438.4" y1="510.5" x2="438.4" y2="555.5" stroke="#505050" stroke-width="0.6"/>
<line x1="476.2" y1="510.5" x2="476.2" y2="555.5" stroke="#505050" stroke-width="0.6"/>
<line x1="438.4" y1="552.7" x2="476.2" y2="552.7" stroke="#505050" stroke-width="0.6"/>
<polygon points="438.4,552.7 441.6,551.95 441.6,553.45" fill="#505050"/>
<polygon points="476.2,552.7 473,551.95 473,553.45" fill="#505050"/>
<text x="457.2" y="551.87" font-size="9.4" text-anchor="middle" fill="#111">60</text>
<circle cx="532" cy="426.8" r="5.9" fill="#fff" stroke="#111" stroke-width="0.9"/>
<line x1="525" y1="426.8" x2="539" y2="426.8" stroke="#555" stroke-width="0.45"/>
<line x1="532" y1="419.8" x2="532" y2="433.8" stroke="#555" stroke-width="0.45"/>
<circle cx="532" cy="510.5" r="5.9" fill="#fff" stroke="#111" stroke-width="0.9"/>
<line x1="525" y1="510.5" x2="539" y2="510.5" stroke="#555" stroke-width="0.45"/>
<line x1="532" y1="503.5" x2="532" y2="517.5" stroke="#555" stroke-width="0.45"/>
<circle cx="550.7" cy="426.8" r="5.9" fill="#fff" stroke="#111" stroke-width="0.9"/>
<line x1="543.7" y1="426.8" x2="557.7" y2="426.8" stroke="#555" stroke-width="0.45"/>
<line x1="550.7" y1="419.8" x2="550.7" y2="433.8" stroke="#555" stroke-width="0.45"/>
<circle cx="550.7" cy="510.5" r="5.9" fill="#fff" stroke="#111" stroke-width="0.9"/>
<line x1="543.7" y1="510.5" x2="557.7" y2="510.5" stroke="#555" stroke-width="0.45"/>
<line x1="550.7" y1="503.5" x2="550.7" y2="517.5" stroke="#555" stroke-width="0.45"/>
<circle cx="569.5" cy="426.8" r="5.9" fill="#fff" stroke="#111" stroke-width="0.9"/>
<line x1="562.5" y1="426.8" x2="576.5" y2="426.8" stroke="#555" stroke-width="0.45"/>
<line x1="569.5" y1="419.8" x2="569.5" y2="433.8" stroke="#555" stroke-width="0.45"/>
<circle cx="569.5" cy="510.5" r="5.9" fill="#fff" stroke="#111" stroke-width="0.9"/>
<line x1="562.5" y1="510.5" x2="576.5" y2="510.5" stroke="#555" stroke-width="0.45"/>
<line x1="569.5" y1="503.5" x2="569.5" y2="517.5" stroke="#555" stroke-width="0.45"/>
<circle cx="588.4" cy="426.8" r="5.9" fill="#fff" stroke="#111" stroke-width="0.9"/>
<line x1="581.4" y1="426.8" x2="595.4" y2="426.8" stroke="#555" stroke-width="0.45"/>
<line x1="588.4" y1="419.8" x2="588.4" y2="433.8" stroke="#555" stroke-width="0.45"/>
<circle cx="588.4" cy="510.5" r="5.9" fill="#fff" stroke="#111" stroke-width="0.9"/>
<line x1="581.4" y1="510.5" x2="595.4" y2="510.5" stroke="#555" stroke-width="0.45"/>
<line x1="588.4" y1="503.5" x2="588.4" y2="517.5" stroke="#555" stroke-width="0.45"/>
<line x1="524" y1="426.8" x2="633" y2="426.8" stroke="#555" stroke-width="0.45"/>
<line x1="524" y1="510.5" x2="633" y2="510.5" stroke="#555" stroke-width="0.45"/>
<circle cx="541.2" cy="426.8" r="1.1" fill="#333" stroke="#333" stroke-width="0.2"/>
<circle cx="541.2" cy="510.5" r="1.1" fill="#333" stroke="#333" stroke-width="0.2"/>
<line x1="541.2" y1="510.5" x2="541.2" y2="542.5" stroke="#505050" stroke-width="0.6"/>
<circle cx="560.1" cy="426.8" r="1.1" fill="#333" stroke="#333" stroke-width="0.2"/>
<circle cx="560.1" cy="510.5" r="1.1" fill="#333" stroke="#333" stroke-width="0.2"/>
<line x1="560.1" y1="510.5" x2="560.1" y2="542.5" stroke="#505050" stroke-width="0.6"/>
<line x1="541.2" y1="540" x2="560.1" y2="540" stroke="#505050" stroke-width="0.6"/>
<polygon points="541.2,540 544.4,539.25 544.4,540.75" fill="#505050"/>
<polygon points="560.1,540 556.9,539.25 556.9,540.75" fill="#505050"/>
<text x="550.8" y="539.07" font-size="9.4" text-anchor="middle" fill="#111">30</text>
<line x1="532" y1="510.5" x2="532" y2="555" stroke="#505050" stroke-width="0.6"/>
<line x1="569.5" y1="510.5" x2="569.5" y2="555" stroke="#505050" stroke-width="0.6"/>
<line x1="588.4" y1="510.5" x2="588.4" y2="555" stroke="#505050" stroke-width="0.6"/>
<line x1="532" y1="552.3" x2="588.4" y2="552.3" stroke="#505050" stroke-width="0.6"/>
<polygon points="532,552.3 535.2,551.55 535.2,553.05" fill="#505050"/>
<polygon points="550.7,552.3 547.5,551.55 547.5,553.05" fill="#505050"/>
<polygon points="550.7,552.3 553.9,551.55 553.9,553.05" fill="#505050"/>
<polygon points="569.5,552.3 566.3,551.55 566.3,553.05" fill="#505050"/>
<polygon points="569.5,552.3 572.7,551.55 572.7,553.05" fill="#505050"/>
<polygon points="588.4,552.3 585.2,551.55 585.2,553.05" fill="#505050"/>
<text x="541.2" y="551.87" font-size="9.4" text-anchor="middle" fill="#111">30</text>
<text x="560.1" y="551.87" font-size="9.4" text-anchor="middle" fill="#111">30</text>
<text x="578.7" y="551.87" font-size="9.4" text-anchor="middle" fill="#111">30</text>
<line x1="615.8" y1="426.8" x2="615.8" y2="510.5" stroke="#505050" stroke-width="0.6"/>
<polygon points="615.8,426.8 615.05,430 616.55,430" fill="#505050"/>
<polygon points="615.8,510.5 615.05,507.3 616.55,507.3" fill="#505050"/>
<text transform="translate(611.6 468) rotate(-90)" x="0" y="3.37" font-size="9.4" text-anchor="middle" fill="#111">132</text>
<line x1="631.4" y1="426.8" x2="631.4" y2="510.5" stroke="#505050" stroke-width="0.6"/>
<polygon points="631.4,426.8 630.65,430 632.15,430" fill="#505050"/>
<polygon points="631.4,510.5 630.65,507.3 632.15,507.3" fill="#505050"/>
<text transform="translate(626.9 468) rotate(-90)" x="0" y="3.37" font-size="9.4" text-anchor="middle" fill="#111">134</text>
<text x="618.4" y="538.9" font-size="9.5" textLength="15.4" lengthAdjust="spacingAndGlyphs" fill="#111">ø18</text>
<line x1="615.5" y1="540" x2="634.7" y2="540" stroke="#505050" stroke-width="0.6"/>
<line x1="615.5" y1="540" x2="592.4" y2="515" stroke="#505050" stroke-width="0.6"/>
<text x="600" y="552.61" font-size="10.07" textLength="34.7" lengthAdjust="spacingAndGlyphs" fill="#111">M4X0.7</text>
<line x1="598.3" y1="554.4" x2="657.5" y2="554.4" stroke="#505050" stroke-width="0.6"/>
<line x1="598.3" y1="554.4" x2="560.6" y2="511.2" stroke="#505050" stroke-width="0.6"/>
<text x="600" y="563.27" font-size="10.24" textLength="55.8" lengthAdjust="spacingAndGlyphs" fill="#111">Tapped hole</text>
<text x="815" y="347.5" font-size="10.34" text-anchor="middle" textLength="57.5" lengthAdjust="spacingAndGlyphs" fill="#111">Panel cutout</text>
<text x="815" y="357.95" font-size="10.19" text-anchor="middle" textLength="53.8" lengthAdjust="spacingAndGlyphs" fill="#111">(Front view)</text>
<text x="780.5" y="388.94" font-size="9.6" text-anchor="middle" fill="#111">3P</text>
<text x="846.8" y="388.94" font-size="9.6" text-anchor="middle" fill="#111">4P</text>
<line x1="778.2" y1="392.7" x2="778.2" y2="398.6" stroke="#111" stroke-width="0.95" stroke-linecap="square"/>
<line x1="782.4" y1="392.7" x2="782.4" y2="398.6" stroke="#111" stroke-width="0.95" stroke-linecap="square"/>
<line x1="778.2" y1="395.6" x2="782.4" y2="395.6" stroke="#111" stroke-width="0.95"/>
<line x1="780.4" y1="394.8" x2="780.4" y2="400.6" stroke="#111" stroke-width="0.95" stroke-linecap="square"/>
<line x1="780.4" y1="400.6" x2="784.2" y2="400.6" stroke="#111" stroke-width="0.95" stroke-linecap="square"/>
<line x1="845.2" y1="392.7" x2="845.2" y2="398.6" stroke="#111" stroke-width="0.95" stroke-linecap="square"/>
<line x1="849.4" y1="392.7" x2="849.4" y2="398.6" stroke="#111" stroke-width="0.95" stroke-linecap="square"/>
<line x1="845.2" y1="395.6" x2="849.4" y2="395.6" stroke="#111" stroke-width="0.95"/>
<line x1="847.4" y1="394.8" x2="847.4" y2="400.6" stroke="#111" stroke-width="0.95" stroke-linecap="square"/>
<line x1="847.4" y1="400.6" x2="851.2" y2="400.6" stroke="#111" stroke-width="0.95" stroke-linecap="square"/>
<rect x="752.4" y="421.6" width="56" height="94.7" fill="none" stroke="#858585" stroke-width="0.6" stroke-dasharray="4.5 1.2 1 1.2"/>
<rect x="820" y="421.6" width="74.2" height="94.7" fill="none" stroke="#858585" stroke-width="0.6" stroke-dasharray="4.5 1.2 1 1.2"/>
<rect x="752.4" y="454.3" width="56" height="29.1" fill="none" stroke="#5a5a5a" stroke-width="0.6"/>
<rect x="820" y="454.3" width="74.2" height="29.1" fill="none" stroke="#5a5a5a" stroke-width="0.6"/>
<line x1="780.6" y1="402.5" x2="780.6" y2="529.5" stroke="#444" stroke-width="0.5"/>
<line x1="848" y1="402.5" x2="848" y2="529.5" stroke="#444" stroke-width="0.5"/>
<line x1="749.7" y1="468.6" x2="811" y2="468.6" stroke="#888" stroke-width="0.5"/>
<line x1="817.5" y1="468.6" x2="894.2" y2="468.6" stroke="#888" stroke-width="0.5"/>
<g transform="translate(743.6 468.6) rotate(0) scale(0.8)">
<path d="M2.6,-2 A3.2,3.4 0 1 0 2.6,2" fill="none" stroke="#8a8a8a" stroke-width="1.0"/>
<line x1="0" y1="-3.8" x2="0" y2="5.3" stroke="#8a8a8a" stroke-width="1.0"/>
<line x1="0" y1="5.3" x2="4" y2="5.3" stroke="#8a8a8a" stroke-width="1.0"/>
</g>
<line x1="752.4" y1="410" x2="752.4" y2="421.8" stroke="#505050" stroke-width="0.6"/>
<line x1="820" y1="410" x2="820" y2="421.8" stroke="#505050" stroke-width="0.6"/>
<line x1="752.4" y1="412" x2="780.6" y2="412" stroke="#505050" stroke-width="0.6"/>
<polygon points="752.4,412 755.6,411.25 755.6,412.75" fill="#505050"/>
<polygon points="780.6,412 777.4,411.25 777.4,412.75" fill="#505050"/>
<text x="767" y="411.27" font-size="9.4" text-anchor="middle" fill="#111">45</text>
<line x1="820" y1="412" x2="848" y2="412" stroke="#505050" stroke-width="0.6"/>
<polygon points="820,412 823.2,411.25 823.2,412.75" fill="#505050"/>
<polygon points="848,412 844.8,411.25 844.8,412.75" fill="#505050"/>
<text x="833.8" y="411.27" font-size="9.4" text-anchor="middle" fill="#111">45</text>
<line x1="894.2" y1="454.2" x2="909.5" y2="454.2" stroke="#505050" stroke-width="0.6"/>
<line x1="894.2" y1="483.2" x2="909.5" y2="483.2" stroke="#505050" stroke-width="0.6"/>
<line x1="907.6" y1="454.2" x2="907.6" y2="483.2" stroke="#505050" stroke-width="0.6"/>
<polygon points="907.6,454.2 906.85,457.4 908.35,457.4" fill="#505050"/>
<polygon points="907.6,483.2 906.85,480 908.35,480" fill="#505050"/>
<text transform="translate(902.8 468.6) rotate(-90)" x="0" y="3.37" font-size="9.4" text-anchor="middle" fill="#111">47</text>
<line x1="752.4" y1="516.6" x2="752.4" y2="545" stroke="#505050" stroke-width="0.6"/>
<line x1="808.4" y1="516.6" x2="808.4" y2="545" stroke="#505050" stroke-width="0.6"/>
<line x1="820" y1="516.6" x2="820" y2="545" stroke="#505050" stroke-width="0.6"/>
<line x1="894.2" y1="516.6" x2="894.2" y2="545" stroke="#505050" stroke-width="0.6"/>
<line x1="752.4" y1="527.3" x2="780.6" y2="527.3" stroke="#505050" stroke-width="0.6"/>
<polygon points="752.4,527.3 755.6,526.55 755.6,528.05" fill="#505050"/>
<polygon points="780.6,527.3 777.4,526.55 777.4,528.05" fill="#505050"/>
<text x="765.8" y="526.07" font-size="9.4" text-anchor="middle" fill="#111">46</text>
<line x1="820" y1="527.3" x2="848" y2="527.3" stroke="#505050" stroke-width="0.6"/>
<polygon points="820,527.3 823.2,526.55 823.2,528.05" fill="#505050"/>
<polygon points="848,527.3 844.8,526.55 844.8,528.05" fill="#505050"/>
<text x="833" y="526.07" font-size="9.4" text-anchor="middle" fill="#111">46</text>
<line x1="752.4" y1="542.2" x2="808.4" y2="542.2" stroke="#505050" stroke-width="0.6"/>
<polygon points="752.4,542.2 755.6,541.45 755.6,542.95" fill="#505050"/>
<polygon points="808.4,542.2 805.2,541.45 805.2,542.95" fill="#505050"/>
<text x="781" y="541.57" font-size="9.4" text-anchor="middle" fill="#111">92</text>
<line x1="820" y1="542.2" x2="894.2" y2="542.2" stroke="#505050" stroke-width="0.6"/>
<polygon points="820,542.2 823.2,541.45 823.2,542.95" fill="#505050"/>
<polygon points="894.2,542.2 891,541.45 891,542.95" fill="#505050"/>
<text x="856.4" y="541.57" font-size="9.4" text-anchor="middle" fill="#111">122</text>
<text x="753.1" y="567.82" font-size="10.38" textLength="146" lengthAdjust="spacingAndGlyphs" fill="#111">Panel cutout dimensions shown</text>
<text x="753.1" y="578.14" font-size="10.45" textLength="129.5" lengthAdjust="spacingAndGlyphs" fill="#111">give an allowance of 1.0mm</text>
<text x="753.1" y="588.64" font-size="10.45" textLength="143.5" lengthAdjust="spacingAndGlyphs" fill="#111">around the handle escutcheon.</text>
</svg>
</body></html>
